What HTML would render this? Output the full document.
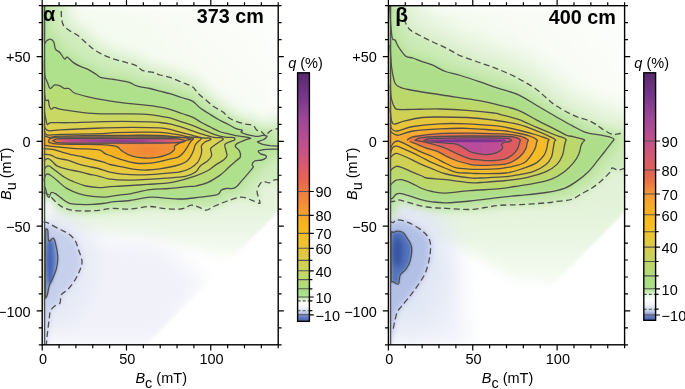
<!DOCTYPE html>
<html><head><meta charset="utf-8"><style>
html,body{margin:0;padding:0;background:#fff;}
svg{display:block;}
text{opacity:0.999;font-family:"Liberation Sans", sans-serif;fill:#000;}
.tl{font-size:14.5px;}
.al{font-size:14.5px;}
.tt{font-size:19.8px;font-weight:bold;}
.gk{font-size:21px;font-weight:bold;}
</style></head><body>
<svg width="685" height="389" viewBox="0 0 685 389">
<clipPath id="clipa"><rect x="42.2" y="5.7" width="236.00" height="339.10"/></clipPath>
<linearGradient id="ridgea" x1="53" y1="0" x2="186" y2="0" gradientUnits="userSpaceOnUse"><stop offset="0.000" stop-color="#f07a40"/><stop offset="0.038" stop-color="#e86050"/><stop offset="0.075" stop-color="#d04c88"/><stop offset="0.165" stop-color="#b84498"/><stop offset="0.316" stop-color="#9a3c9c"/><stop offset="0.504" stop-color="#8a3698"/><stop offset="0.654" stop-color="#983a9a"/><stop offset="0.729" stop-color="#ae4698"/><stop offset="0.820" stop-color="#c8508c"/><stop offset="0.895" stop-color="#dc5870"/><stop offset="0.955" stop-color="#e86658"/><stop offset="1.000" stop-color="#f07a40"/></linearGradient><linearGradient id="edgea" x1="0" y1="5" x2="0" y2="345" gradientUnits="userSpaceOnUse"><stop offset="0" stop-color="#c4e6a8"/><stop offset="0.2" stop-color="#b4dc84"/><stop offset="0.33" stop-color="#cdd45a"/><stop offset="0.38" stop-color="#e6c63c"/><stop offset="0.4" stop-color="#f6b82a"/><stop offset="0.43" stop-color="#e8c43a"/><stop offset="0.5" stop-color="#c8d460"/><stop offset="0.55" stop-color="#b4dc84"/><stop offset="0.62" stop-color="#d8ecc8"/><stop offset="0.66" stop-color="#f0f4f8"/><stop offset="0.7" stop-color="#d4e6c8"/><stop offset="0.88" stop-color="#d4e6c8"/><stop offset="0.92" stop-color="#eef2f8"/><stop offset="1" stop-color="#f4f6fa"/></linearGradient><radialGradient id="bloba" cx="150" cy="150" r="30" gradientUnits="userSpaceOnUse" gradientTransform="translate(150 150) scale(1.6 0.5) translate(-150 -150)"><stop offset="0" stop-color="#f2863a"/><stop offset="1" stop-color="#f59e30"/></radialGradient><linearGradient id="tinta" x1="60" y1="200" x2="270" y2="10" gradientUnits="userSpaceOnUse"><stop offset="0" stop-color="#eaf6e2"/><stop offset="1" stop-color="#fdfefc"/></linearGradient><filter id="fa1_5" filterUnits="userSpaceOnUse" x="2.200000000000003" y="-34.3" width="316.0" height="419.1"><feGaussianBlur stdDeviation="1.5"/></filter><filter id="fa3" filterUnits="userSpaceOnUse" x="2.200000000000003" y="-34.3" width="316.0" height="419.1"><feGaussianBlur stdDeviation="3"/></filter><filter id="fa6" filterUnits="userSpaceOnUse" x="2.200000000000003" y="-34.3" width="316.0" height="419.1"><feGaussianBlur stdDeviation="6"/></filter><filter id="fa10" filterUnits="userSpaceOnUse" x="2.200000000000003" y="-34.3" width="316.0" height="419.1"><feGaussianBlur stdDeviation="10"/></filter><filter id="fa14" filterUnits="userSpaceOnUse" x="2.200000000000003" y="-34.3" width="316.0" height="419.1"><feGaussianBlur stdDeviation="14"/></filter>
<filter id="bl1a" x="-5%" y="-5%" width="110%" height="110%"><feGaussianBlur stdDeviation="1.0"/></filter>
<filter id="bl2a" x="-20%" y="-20%" width="140%" height="140%"><feGaussianBlur stdDeviation="2"/></filter>
<filter id="bl4a" x="-20%" y="-20%" width="140%" height="140%"><feGaussianBlur stdDeviation="4"/></filter>
<filter id="bl8a" x="-20%" y="-20%" width="140%" height="140%"><feGaussianBlur stdDeviation="8"/></filter>
<g clip-path="url(#clipa)">
<rect x="42.2" y="5.7" width="236.0" height="339.1" fill="#fff"/>
<path d="M42.2 5.7 L278.2 5.7 L278.2 213.0 L210.0 232.0 L42.2 232.0Z" fill="url(#tinta)" filter="url(#fa6)"/>
<path d="M42.2 5.7C45.3 5.1 57.6 1.1 60.8 2.0C64.0 2.9 61.2 8.2 61.3 11.0C61.4 13.8 61.2 16.1 61.6 18.5C62.0 20.9 62.4 23.8 63.6 25.7C64.8 27.6 66.6 28.5 69.0 30.2C71.4 31.9 75.0 33.4 78.0 35.6C81.0 37.9 84.0 41.2 87.0 43.7C90.0 46.2 92.4 48.6 96.0 50.9C99.6 53.1 104.1 55.4 108.6 57.2C113.1 59.0 118.5 60.4 123.0 61.7C127.5 63.1 132.3 63.8 135.6 65.3C138.9 66.8 139.8 69.5 142.8 70.7C145.8 71.9 150.6 71.8 153.5 72.5C156.4 73.2 157.1 74.1 160.0 75.0C162.9 75.9 167.2 76.5 170.8 77.7C174.4 78.9 178.0 80.7 181.6 82.2C185.2 83.7 189.7 84.9 192.4 86.7C195.1 88.5 195.7 90.9 197.8 93.0C199.9 95.1 202.3 96.9 205.0 99.2C207.7 101.5 211.0 104.6 214.0 106.7C217.0 108.8 220.6 110.3 223.0 112.1C225.4 113.9 226.3 116.0 228.4 117.5C230.5 119.0 232.9 120.0 235.6 121.1C238.3 122.2 242.3 123.3 244.6 123.9C246.9 124.5 248.0 124.3 249.5 124.6C251.0 124.9 252.3 124.6 253.5 125.5C254.7 126.4 255.4 129.1 256.6 130.0C257.8 130.9 259.6 130.6 260.7 131.2C261.8 131.8 262.6 133.0 263.5 133.8C264.4 134.6 265.0 136.2 265.8 136.0C266.6 135.8 267.6 133.4 268.5 132.5C269.4 131.6 270.4 130.8 271.5 130.3C272.6 129.8 273.8 129.6 275.0 129.3C276.2 129.0 278.3 120.2 279.0 128.6C279.7 137.0 279.8 171.3 279.0 179.8C278.2 188.3 276.0 179.3 274.4 179.8C272.8 180.3 271.0 182.6 269.4 182.9C267.8 183.2 265.9 181.6 264.5 181.6C263.1 181.6 262.1 181.3 260.8 182.9C259.6 184.5 257.2 188.1 257.0 191.0C256.8 193.9 259.1 198.2 259.5 200.3C259.9 202.4 260.7 203.4 259.5 203.4C258.3 203.4 255.2 201.3 252.1 200.3C249.0 199.3 245.2 197.0 240.9 197.2C236.6 197.4 230.6 199.9 226.0 201.5C221.4 203.1 216.9 205.1 213.6 206.5C210.3 207.9 208.7 210.1 206.2 210.2C203.7 210.3 201.2 207.9 198.7 207.1C196.2 206.3 193.9 204.9 191.0 205.2C188.1 205.5 185.8 208.5 181.0 209.0C176.2 209.5 167.6 208.7 162.4 208.3C157.2 207.9 155.4 206.4 150.0 206.5C144.6 206.6 136.3 208.7 130.0 209.0C123.7 209.3 117.5 208.2 112.3 208.4C107.1 208.6 103.5 209.9 99.1 210.3C94.7 210.7 90.4 211.0 86.0 211.0C81.6 211.0 76.6 210.9 72.9 210.3C69.2 209.8 66.1 208.7 63.7 207.7C61.3 206.7 60.2 205.8 58.4 204.4C56.6 203.0 54.7 200.8 53.1 199.2C51.5 197.6 50.4 196.0 49.0 195.0C47.6 194.0 45.9 193.3 45.0 193.0C44.1 192.7 44.0 192.5 43.5 193.0C43.0 193.5 42.4 195.5 42.2 196.0Z" fill="#dcf0cf" stroke="#dcf0cf" stroke-width="18" stroke-linejoin="round" filter="url(#fa6)"/>
<linearGradient id="gfa" x1="0" y1="205" x2="0" y2="260" gradientUnits="userSpaceOnUse"><stop offset="0" stop-color="#e4f3da"/><stop offset="0.5" stop-color="#edf7e8"/><stop offset="1" stop-color="#f8fcf6"/></linearGradient>
<path d="M42.2 195.0 L43.5 193.0 L45.0 193.0 L49.0 195.0 L53.1 199.2 L58.4 204.4 L63.7 207.7 L72.9 210.3 L86.0 211.0 L99.1 210.3 L112.3 208.4 L130.0 209.0 L150.0 206.5 L162.4 208.3 L181.0 209.0 L191.0 205.2 L198.7 207.1 L206.2 210.2 L213.6 206.5 L226.0 201.5 L240.9 197.2 L252.1 200.3 L259.5 203.4 L259.5 200.3 L257.0 191.0 L260.8 182.9 L264.5 181.6 L269.4 182.9 L274.4 179.8 L279.0 179.8 L280.0 178.0 L280.0 240.0 L250.0 255.0 L215.0 256.0 L160.0 240.0 L100.0 230.0 L42.2 222.0Z" fill="url(#gfa)" filter="url(#fa6)"/>
<path d="M42.2 232 L160 242 L205 280 L165 345 L42.2 345Z" fill="#f1f2f9" filter="url(#fa10)"/>
<ellipse cx="56" cy="268" rx="38" ry="58" fill="#e6eaf6" filter="url(#fa10)"/>
<path d="M43.5 222.0C44.3 222.2 45.9 221.9 48.4 223.1C50.9 224.2 55.5 227.2 58.8 228.9C62.1 230.6 65.4 231.6 68.1 233.5C70.8 235.4 73.4 237.8 75.1 240.5C76.8 243.2 77.3 246.2 78.5 249.7C79.7 253.2 81.8 257.8 82.0 261.3C82.2 264.8 80.9 267.5 79.7 270.6C78.5 273.7 77.0 276.8 75.1 279.9C73.2 283.0 70.4 286.6 68.1 289.1C65.8 291.6 62.6 292.6 61.2 294.9C59.9 297.2 61.1 301.1 60.0 303.0C58.9 304.9 56.0 304.8 54.4 306.2C52.8 307.6 51.1 309.2 50.3 311.3C49.4 313.4 49.6 315.9 49.3 318.5C48.9 321.1 48.6 324.1 48.2 326.8C47.9 329.6 47.5 332.5 47.2 335.0C46.9 337.5 46.8 340.2 46.6 342.0C46.4 343.8 47.2 345.3 46.0 346.0C44.8 346.7 40.3 366.7 39.2 346.0C38.1 325.3 39.2 242.7 39.2 222.0Z" fill="#c6cfeb" filter="url(#fa3)"/>
<path d="M45.5 297.0C45.5 291.2 45.5 272.8 45.5 262.0C45.5 251.2 45.5 237.4 45.6 232.0C45.7 226.6 45.9 229.8 46.3 229.5C46.7 229.2 47.4 228.8 47.8 230.5C48.1 232.2 48.0 238.2 48.4 240.0C48.8 241.8 49.2 241.3 50.0 241.0C50.8 240.7 52.2 237.9 53.1 238.2C54.0 238.5 54.6 239.7 55.4 242.8C56.2 245.9 57.5 252.4 57.7 256.7C57.9 260.9 57.3 264.8 56.5 268.3C55.7 271.8 54.2 274.8 53.1 277.5C52.0 280.2 50.6 281.6 49.6 284.5C48.6 287.4 47.9 292.6 47.3 294.9C46.7 297.1 46.0 297.5 45.8 298.0Z" fill="#6f88c8" filter="url(#fa1_5)"/>
<ellipse cx="50" cy="262" rx="3.5" ry="22" fill="#4a68b5" filter="url(#fa1_5)"/>
<filter id="lba10h" filterUnits="userSpaceOnUse" x="12.200000000000003" y="-24.3" width="296.0" height="399.1"><feGaussianBlur stdDeviation="5"/></filter><filter id="lbaD" filterUnits="userSpaceOnUse" x="22.200000000000003" y="-14.3" width="276.0" height="379.1"><feGaussianBlur stdDeviation="3"/></filter><filter id="lba10" filterUnits="userSpaceOnUse" x="22.200000000000003" y="-14.3" width="276.0" height="379.1"><feGaussianBlur stdDeviation="2.5"/></filter><filter id="lba20" filterUnits="userSpaceOnUse" x="22.200000000000003" y="-14.3" width="276.0" height="379.1"><feGaussianBlur stdDeviation="2"/></filter><filter id="lba30" filterUnits="userSpaceOnUse" x="22.200000000000003" y="-14.3" width="276.0" height="379.1"><feGaussianBlur stdDeviation="1.6"/></filter><filter id="lba40" filterUnits="userSpaceOnUse" x="22.200000000000003" y="-14.3" width="276.0" height="379.1"><feGaussianBlur stdDeviation="1.3"/></filter><filter id="lba50" filterUnits="userSpaceOnUse" x="22.200000000000003" y="-14.3" width="276.0" height="379.1"><feGaussianBlur stdDeviation="1.1"/></filter><filter id="lba60" filterUnits="userSpaceOnUse" x="22.200000000000003" y="-14.3" width="276.0" height="379.1"><feGaussianBlur stdDeviation="1"/></filter><filter id="lba70" filterUnits="userSpaceOnUse" x="22.200000000000003" y="-14.3" width="276.0" height="379.1"><feGaussianBlur stdDeviation="1"/></filter><filter id="lba80" filterUnits="userSpaceOnUse" x="22.200000000000003" y="-14.3" width="276.0" height="379.1"><feGaussianBlur stdDeviation="1"/></filter><filter id="lba90" filterUnits="userSpaceOnUse" x="22.200000000000003" y="-14.3" width="276.0" height="379.1"><feGaussianBlur stdDeviation="0.8"/></filter><path d="M39.2 2.7C42.8 2.6 57.1 0.6 60.8 2.0C64.5 3.4 61.2 8.2 61.3 11.0C61.4 13.8 61.2 16.1 61.6 18.5C62.0 20.9 62.4 23.8 63.6 25.7C64.8 27.6 66.6 28.5 69.0 30.2C71.4 31.9 75.0 33.4 78.0 35.6C81.0 37.9 84.0 41.2 87.0 43.7C90.0 46.2 92.4 48.6 96.0 50.9C99.6 53.1 104.1 55.4 108.6 57.2C113.1 59.0 118.5 60.4 123.0 61.7C127.5 63.1 132.3 63.8 135.6 65.3C138.9 66.8 139.8 69.5 142.8 70.7C145.8 71.9 150.6 71.8 153.5 72.5C156.4 73.2 157.1 74.1 160.0 75.0C162.9 75.9 167.2 76.5 170.8 77.7C174.4 78.9 178.0 80.7 181.6 82.2C185.2 83.7 189.7 84.9 192.4 86.7C195.1 88.5 195.7 90.9 197.8 93.0C199.9 95.1 202.3 96.9 205.0 99.2C207.7 101.5 211.0 104.6 214.0 106.7C217.0 108.8 220.6 110.3 223.0 112.1C225.4 113.9 226.3 116.0 228.4 117.5C230.5 119.0 232.9 120.0 235.6 121.1C238.3 122.2 242.3 123.3 244.6 123.9C246.9 124.5 248.0 124.3 249.5 124.6C251.0 124.9 252.3 124.6 253.5 125.5C254.7 126.4 255.4 129.1 256.6 130.0C257.8 130.9 259.6 130.6 260.7 131.2C261.8 131.8 262.6 133.0 263.5 133.8C264.4 134.6 265.0 136.2 265.8 136.0C266.6 135.8 267.6 133.4 268.5 132.5C269.4 131.6 270.4 130.8 271.5 130.3C272.6 129.8 273.8 129.6 275.0 129.3C276.2 129.0 278.3 120.2 279.0 128.6C279.7 137.0 279.8 171.3 279.0 179.8C278.2 188.3 276.0 179.3 274.4 179.8C272.8 180.3 271.0 182.6 269.4 182.9C267.8 183.2 265.9 181.6 264.5 181.6C263.1 181.6 262.1 181.3 260.8 182.9C259.6 184.5 257.2 188.1 257.0 191.0C256.8 193.9 259.1 198.2 259.5 200.3C259.9 202.4 260.7 203.4 259.5 203.4C258.3 203.4 255.2 201.3 252.1 200.3C249.0 199.3 245.2 197.0 240.9 197.2C236.6 197.4 230.6 199.9 226.0 201.5C221.4 203.1 216.9 205.1 213.6 206.5C210.3 207.9 208.7 210.1 206.2 210.2C203.7 210.3 201.2 207.9 198.7 207.1C196.2 206.3 193.9 204.9 191.0 205.2C188.1 205.5 185.8 208.5 181.0 209.0C176.2 209.5 167.6 208.7 162.4 208.3C157.2 207.9 155.4 206.4 150.0 206.5C144.6 206.6 136.3 208.7 130.0 209.0C123.7 209.3 117.5 208.2 112.3 208.4C107.1 208.6 103.5 209.9 99.1 210.3C94.7 210.7 90.4 211.0 86.0 211.0C81.6 211.0 76.6 210.9 72.9 210.3C69.2 209.8 66.1 208.7 63.7 207.7C61.3 206.7 60.2 205.8 58.4 204.4C56.6 203.0 54.7 200.8 53.1 199.2C51.5 197.6 50.4 196.0 49.0 195.0C47.6 194.0 45.9 193.3 45.0 193.0C44.1 192.7 44.5 193.0 43.5 193.0C42.5 193.0 39.9 193.0 39.2 193.0Z" fill="#cfecbb" filter="url(#lbaD)"/><path d="M44.4 5.0C44.4 9.2 44.4 23.8 44.4 30.0C44.4 36.2 44.2 40.8 44.6 42.5C45.0 44.2 46.1 41.0 47.0 40.5C47.9 40.0 49.0 39.0 50.1 39.2C51.2 39.4 52.8 40.2 53.7 41.9C54.6 43.5 54.5 47.3 55.5 49.1C56.5 50.9 58.5 51.1 60.0 52.7C61.5 54.4 63.3 58.2 64.5 59.0C65.7 59.8 65.7 56.6 67.2 57.2C68.7 57.8 71.4 61.1 73.5 62.6C75.6 64.1 77.2 65.0 79.8 66.2C82.3 67.4 86.1 68.5 88.8 69.8C91.5 71.1 93.9 73.0 96.0 74.3C98.1 75.6 98.4 76.8 101.4 77.7C104.4 78.6 109.5 78.8 114.0 79.5C118.5 80.2 124.5 81.1 128.4 82.2C132.3 83.3 133.8 85.2 137.4 86.2C141.0 87.2 146.2 87.7 150.0 88.5C153.8 89.3 156.5 90.3 160.0 91.2C163.5 92.1 167.2 92.9 170.8 93.9C174.4 95.0 178.0 96.3 181.6 97.5C185.2 98.7 189.4 99.4 192.4 101.1C195.4 102.8 196.6 105.2 199.6 107.4C202.6 109.7 207.1 112.5 210.4 114.6C213.7 116.7 216.4 118.3 219.4 120.0C222.4 121.7 225.6 123.0 228.4 124.5C231.2 126.0 233.7 127.7 236.0 128.7C238.3 129.7 241.3 129.7 242.2 130.3C243.0 130.9 240.4 131.6 241.1 132.3C241.8 133.0 243.7 133.7 246.3 134.4C248.9 135.1 253.9 136.2 256.6 136.4C259.3 136.6 261.0 135.5 262.7 135.4C264.4 135.3 266.3 135.5 266.8 135.9C267.3 136.3 266.5 137.3 265.8 138.0C265.1 138.7 264.1 139.4 262.7 140.0C261.3 140.6 258.1 141.1 257.6 141.6C257.1 142.1 258.6 142.6 259.6 143.1C260.6 143.6 262.1 144.3 263.8 144.7C265.5 145.1 267.5 145.4 270.0 145.7C272.5 145.9 277.5 145.7 279.0 146.2C280.5 146.7 281.0 148.3 279.0 148.8C277.0 149.3 270.2 149.0 266.8 149.3C263.4 149.6 259.6 150.0 258.6 150.8C257.6 151.6 259.5 153.1 260.7 153.9C261.9 154.7 264.9 154.8 265.8 155.5C266.7 156.2 266.5 157.2 265.8 158.0C265.1 158.8 263.6 159.5 261.7 160.0C259.8 160.5 256.2 160.2 254.6 161.0C253.0 161.8 252.3 163.7 252.1 164.7C251.9 165.7 253.7 165.8 253.3 167.0C252.9 168.2 251.5 169.5 249.6 171.7C247.7 173.9 244.6 177.7 242.1 180.4C239.6 183.1 237.4 186.6 234.7 187.9C232.0 189.2 228.3 188.1 226.0 188.5C223.7 188.9 222.4 189.3 221.0 190.3C219.6 191.3 220.9 193.5 217.3 194.7C213.7 195.8 205.7 196.5 199.6 197.2C193.5 197.9 187.2 198.9 181.0 199.0C174.8 199.1 167.6 198.1 162.4 197.8C157.2 197.5 155.4 196.8 150.0 197.2C144.6 197.6 136.3 199.7 130.0 200.5C123.7 201.3 116.3 201.4 112.3 201.8C108.2 202.2 109.0 202.7 105.7 203.1C102.4 203.5 97.0 204.2 92.6 204.4C88.2 204.6 83.4 204.6 79.4 204.4C75.5 204.2 72.0 204.2 68.9 203.1C65.8 202.0 63.2 199.4 61.0 197.9C58.8 196.4 57.4 194.8 55.8 193.9C54.2 193.0 52.3 192.1 51.2 192.6C50.1 193.1 49.9 196.8 49.2 197.2C48.5 197.6 47.8 196.4 47.2 195.2C46.7 194.0 46.4 191.5 45.9 190.0C45.4 188.5 45.5 186.7 44.4 186.0C43.3 185.3 40.1 216.6 39.2 186.0C38.3 155.4 39.2 33.2 39.2 2.7Z" fill="#bde5a3" stroke="#bde5a3" stroke-width="14" stroke-linejoin="round" filter="url(#lba10h)"/><path d="M44.4 5.0C44.4 9.2 44.4 23.8 44.4 30.0C44.4 36.2 44.2 40.8 44.6 42.5C45.0 44.2 46.1 41.0 47.0 40.5C47.9 40.0 49.0 39.0 50.1 39.2C51.2 39.4 52.8 40.2 53.7 41.9C54.6 43.5 54.5 47.3 55.5 49.1C56.5 50.9 58.5 51.1 60.0 52.7C61.5 54.4 63.3 58.2 64.5 59.0C65.7 59.8 65.7 56.6 67.2 57.2C68.7 57.8 71.4 61.1 73.5 62.6C75.6 64.1 77.2 65.0 79.8 66.2C82.3 67.4 86.1 68.5 88.8 69.8C91.5 71.1 93.9 73.0 96.0 74.3C98.1 75.6 98.4 76.8 101.4 77.7C104.4 78.6 109.5 78.8 114.0 79.5C118.5 80.2 124.5 81.1 128.4 82.2C132.3 83.3 133.8 85.2 137.4 86.2C141.0 87.2 146.2 87.7 150.0 88.5C153.8 89.3 156.5 90.3 160.0 91.2C163.5 92.1 167.2 92.9 170.8 93.9C174.4 95.0 178.0 96.3 181.6 97.5C185.2 98.7 189.4 99.4 192.4 101.1C195.4 102.8 196.6 105.2 199.6 107.4C202.6 109.7 207.1 112.5 210.4 114.6C213.7 116.7 216.4 118.3 219.4 120.0C222.4 121.7 225.6 123.0 228.4 124.5C231.2 126.0 233.7 127.7 236.0 128.7C238.3 129.7 241.3 129.7 242.2 130.3C243.0 130.9 240.4 131.6 241.1 132.3C241.8 133.0 243.7 133.7 246.3 134.4C248.9 135.1 253.9 136.2 256.6 136.4C259.3 136.6 261.0 135.5 262.7 135.4C264.4 135.3 266.3 135.5 266.8 135.9C267.3 136.3 266.5 137.3 265.8 138.0C265.1 138.7 264.1 139.4 262.7 140.0C261.3 140.6 258.1 141.1 257.6 141.6C257.1 142.1 258.6 142.6 259.6 143.1C260.6 143.6 262.1 144.3 263.8 144.7C265.5 145.1 267.5 145.4 270.0 145.7C272.5 145.9 277.5 145.7 279.0 146.2C280.5 146.7 281.0 148.3 279.0 148.8C277.0 149.3 270.2 149.0 266.8 149.3C263.4 149.6 259.6 150.0 258.6 150.8C257.6 151.6 259.5 153.1 260.7 153.9C261.9 154.7 264.9 154.8 265.8 155.5C266.7 156.2 266.5 157.2 265.8 158.0C265.1 158.8 263.6 159.5 261.7 160.0C259.8 160.5 256.2 160.2 254.6 161.0C253.0 161.8 252.3 163.7 252.1 164.7C251.9 165.7 253.7 165.8 253.3 167.0C252.9 168.2 251.5 169.5 249.6 171.7C247.7 173.9 244.6 177.7 242.1 180.4C239.6 183.1 237.4 186.6 234.7 187.9C232.0 189.2 228.3 188.1 226.0 188.5C223.7 188.9 222.4 189.3 221.0 190.3C219.6 191.3 220.9 193.5 217.3 194.7C213.7 195.8 205.7 196.5 199.6 197.2C193.5 197.9 187.2 198.9 181.0 199.0C174.8 199.1 167.6 198.1 162.4 197.8C157.2 197.5 155.4 196.8 150.0 197.2C144.6 197.6 136.3 199.7 130.0 200.5C123.7 201.3 116.3 201.4 112.3 201.8C108.2 202.2 109.0 202.7 105.7 203.1C102.4 203.5 97.0 204.2 92.6 204.4C88.2 204.6 83.4 204.6 79.4 204.4C75.5 204.2 72.0 204.2 68.9 203.1C65.8 202.0 63.2 199.4 61.0 197.9C58.8 196.4 57.4 194.8 55.8 193.9C54.2 193.0 52.3 192.1 51.2 192.6C50.1 193.1 49.9 196.8 49.2 197.2C48.5 197.6 47.8 196.4 47.2 195.2C46.7 194.0 46.4 191.5 45.9 190.0C45.4 188.5 45.5 186.7 44.4 186.0C43.3 185.3 40.1 216.6 39.2 186.0C38.3 155.4 39.2 33.2 39.2 2.7Z" fill="#afe08c" filter="url(#lba10)"/><path d="M44.4 60.0C44.5 62.5 44.3 71.3 44.8 75.0C45.3 78.7 46.5 80.0 47.4 82.2C48.3 84.5 48.9 88.0 50.1 88.5C51.3 89.0 53.0 85.4 54.6 84.9C56.2 84.5 58.4 85.2 60.0 85.8C61.6 86.4 63.0 88.0 64.5 88.5C66.0 89.0 67.3 87.8 69.0 88.5C70.7 89.2 71.4 91.7 74.4 93.0C77.4 94.3 81.9 95.4 87.0 96.6C92.1 97.8 99.0 99.2 105.0 100.2C111.0 101.2 117.0 102.2 123.0 102.9C129.0 103.7 134.8 104.0 141.0 104.7C147.2 105.4 155.0 106.3 160.0 107.1C165.0 107.9 167.2 108.5 170.8 109.6C174.4 110.7 178.0 112.2 181.6 113.5C185.2 114.8 189.1 115.6 192.4 117.1C195.7 118.6 198.4 120.8 201.4 122.5C204.4 124.2 207.4 125.5 210.4 127.0C213.4 128.5 216.4 130.3 219.4 131.5C222.4 132.7 225.4 133.2 228.4 133.9C231.4 134.6 234.4 135.4 237.4 135.9C240.4 136.4 244.2 136.7 246.4 137.1C248.6 137.5 250.0 137.9 250.5 138.2C251.0 138.4 250.4 138.3 249.6 138.6C248.8 138.9 247.6 139.0 245.5 139.8C243.4 140.6 239.0 142.3 237.3 143.4C235.6 144.5 234.9 145.2 235.2 146.4C235.5 147.6 238.4 148.9 239.3 150.6C240.2 152.3 240.9 155.0 240.4 156.7C239.9 158.4 237.9 159.2 236.2 160.8C234.5 162.4 231.8 164.5 230.1 166.0C228.4 167.5 227.7 168.4 226.0 170.0C224.3 171.6 222.9 173.3 219.8 175.4C216.7 177.5 211.5 180.9 207.4 182.7C203.3 184.5 198.4 185.5 195.0 186.2C191.6 186.8 191.6 186.2 187.2 186.6C182.8 187.0 174.8 188.0 168.6 188.5C162.4 189.0 156.4 188.8 150.0 189.7C143.6 190.6 135.2 192.9 130.0 193.8C124.8 194.7 122.8 194.6 118.8 195.1C114.8 195.6 110.1 196.9 105.7 197.1C101.3 197.3 97.0 196.9 92.6 196.4C88.2 195.9 83.8 195.2 79.4 193.8C75.0 192.4 70.0 190.3 66.3 188.1C62.6 185.9 59.7 182.7 57.1 180.5C54.5 178.3 52.2 176.2 50.5 175.2C48.8 174.1 47.6 173.7 46.6 174.2C45.6 174.7 44.8 176.7 44.4 178.0C44.0 179.3 44.4 181.3 44.4 182.0Z" fill="#b8dc76" filter="url(#lba20)"/><path d="M44.4 92.0C44.6 93.4 45.0 98.8 45.6 100.2C46.2 101.6 47.7 99.3 48.3 100.2C48.9 101.1 48.8 104.1 49.2 105.6C49.7 107.1 50.1 108.9 51.0 109.2C51.9 109.5 53.1 107.4 54.6 107.4C56.1 107.4 56.1 108.5 60.0 109.2C63.9 110.0 72.0 111.2 78.0 111.9C84.0 112.7 90.0 113.4 96.0 113.7C102.0 114.0 108.0 113.9 114.0 113.9C120.0 113.9 126.0 113.8 132.0 113.9C138.0 114.0 145.3 114.2 150.0 114.6C154.7 115.0 156.5 115.6 160.0 116.2C163.5 116.8 167.2 117.3 170.8 118.2C174.4 119.1 178.0 120.6 181.6 121.8C185.2 123.0 188.8 124.1 192.4 125.4C196.0 126.8 199.6 128.4 203.2 129.9C206.8 131.4 210.4 133.2 214.0 134.4C217.6 135.6 221.5 136.7 224.8 137.2C228.1 137.7 232.1 137.3 233.8 137.6C235.5 137.9 234.7 138.4 234.8 138.8C234.9 139.2 234.8 139.9 234.2 140.3C233.6 140.7 232.6 140.6 231.1 141.3C229.6 142.0 225.8 142.9 224.9 144.4C224.1 145.9 225.7 148.7 226.0 150.6C226.3 152.5 227.3 154.2 227.0 155.7C226.7 157.2 225.8 158.3 223.9 159.8C222.0 161.3 218.4 163.1 215.7 164.9C213.0 166.7 210.9 168.9 207.5 170.8C204.1 172.7 200.9 174.2 195.0 176.1C189.1 178.0 180.0 180.9 172.0 182.3C164.0 183.7 155.5 183.8 147.2 184.4C138.9 185.0 128.6 185.6 122.4 186.0C116.2 186.4 113.9 186.3 110.0 186.6C106.1 186.9 103.1 187.7 99.1 187.6C95.1 187.5 90.4 187.0 86.0 186.0C81.6 185.0 76.6 182.9 72.9 181.4C69.2 179.9 67.0 178.9 63.7 176.8C60.4 174.7 55.5 170.5 53.1 168.7C50.7 166.9 50.3 166.4 49.2 166.0C48.1 165.6 47.3 166.0 46.5 166.5C45.7 167.0 45.0 168.2 44.6 168.8C44.2 169.4 44.4 169.8 44.4 170.0Z" fill="#c9d862" filter="url(#lba30)"/><path d="M44.4 112.0C44.6 113.0 45.1 116.1 45.6 118.2C46.1 120.3 46.5 123.8 47.4 124.5C48.3 125.2 47.4 123.0 51.0 122.7C54.6 122.4 61.5 122.9 69.0 122.7C76.5 122.5 87.0 122.0 96.0 121.8C105.0 121.6 114.0 121.4 123.0 121.4C132.0 121.4 143.8 121.6 150.0 121.8C156.2 122.0 156.5 122.1 160.0 122.5C163.5 122.9 167.2 123.4 170.8 124.2C174.4 125.0 178.0 126.1 181.6 127.2C185.2 128.3 188.8 129.6 192.4 130.8C196.0 132.0 199.6 133.3 203.2 134.4C206.8 135.5 211.0 136.8 214.0 137.3C217.0 137.8 219.5 137.4 221.0 137.6C222.5 137.8 222.7 138.2 223.0 138.6C223.3 139.0 223.6 139.2 222.9 139.8C222.2 140.4 220.7 141.0 218.8 142.3C216.9 143.6 213.0 146.3 211.6 147.5C210.2 148.7 210.6 148.1 210.6 149.5C210.6 150.9 212.1 153.8 211.6 155.7C211.1 157.6 209.4 159.4 207.5 161.1C205.6 162.8 202.3 164.1 200.3 165.9C198.3 167.7 198.1 170.2 195.6 172.0C193.1 173.8 190.3 175.4 185.3 176.4C180.3 177.4 172.2 177.7 165.8 178.2C159.5 178.7 153.4 179.1 147.2 179.4C141.0 179.7 134.8 180.2 128.6 180.1C122.4 180.0 115.0 179.8 110.0 179.1C105.0 178.4 102.1 176.9 98.5 176.1C94.9 175.2 91.6 174.8 88.2 174.0C84.8 173.2 81.4 172.2 78.0 171.4C74.6 170.6 71.1 170.3 67.7 169.4C64.3 168.5 60.0 167.5 57.4 166.2C54.8 164.9 53.8 162.8 52.3 161.5C50.8 160.2 49.5 158.8 48.2 158.6C46.9 158.4 45.2 159.7 44.6 160.1C44.0 160.5 44.4 160.8 44.4 161.0Z" fill="#dbd24f" filter="url(#lba40)"/><path d="M44.4 124.0C44.5 124.7 44.1 126.9 44.9 128.0C45.7 129.1 46.7 130.5 49.2 130.8C51.7 131.1 55.2 130.2 60.0 129.9C64.8 129.6 70.5 129.3 78.0 129.0C85.5 128.7 96.0 128.2 105.0 127.9C114.0 127.6 122.8 127.4 132.0 127.4C141.2 127.4 153.5 127.5 160.0 127.9C166.5 128.3 167.2 128.8 170.8 129.6C174.4 130.4 178.0 131.6 181.6 132.6C185.2 133.6 188.8 134.4 192.4 135.3C196.0 136.2 200.4 137.6 203.2 138.0C206.0 138.4 207.8 137.8 209.0 137.9C210.2 138.0 210.2 138.4 210.5 138.7C210.8 139.0 211.4 139.2 210.5 139.8C209.6 140.4 206.5 141.0 205.0 142.0C203.5 143.0 202.1 144.2 201.5 145.6C200.9 147.0 201.8 149.0 201.7 150.7C201.6 152.4 201.4 154.1 200.7 156.0C200.0 157.9 199.3 160.4 197.6 162.4C195.9 164.4 193.3 166.6 190.4 168.2C187.5 169.8 185.2 170.9 180.1 171.8C175.0 172.7 166.1 173.3 159.6 173.8C153.1 174.3 147.2 174.7 141.0 174.8C134.8 174.9 127.6 174.6 122.4 174.2C117.2 173.8 114.0 173.1 110.0 172.2C106.0 171.2 102.1 169.5 98.5 168.5C94.9 167.5 91.6 167.2 88.2 166.4C84.8 165.6 81.4 164.8 78.0 163.8C74.6 162.8 71.1 161.1 67.7 160.2C64.3 159.3 60.3 159.1 57.4 158.2C54.5 157.3 52.3 155.4 50.2 154.8C48.1 154.2 45.6 154.5 44.6 154.4C43.6 154.3 44.4 154.1 44.4 154.0Z" fill="#e9c83c" filter="url(#lba50)"/><path d="M44.4 131.0C44.9 131.7 44.3 134.4 47.1 135.0C49.9 135.6 52.1 134.5 61.3 134.3C70.5 134.1 93.2 133.9 102.0 133.6C110.8 133.3 107.7 132.8 114.0 132.6C120.3 132.4 132.3 132.2 140.0 132.2C147.7 132.1 153.7 131.9 160.0 132.3C166.3 132.7 173.2 133.8 178.0 134.6C182.8 135.4 185.2 136.4 188.8 136.9C192.4 137.4 197.5 137.3 199.6 137.6C201.7 137.9 201.3 138.2 201.5 138.5C201.7 138.8 201.5 138.6 200.5 139.6C199.5 140.6 196.8 142.5 195.6 144.3C194.4 146.1 194.4 148.4 193.5 150.5C192.6 152.6 191.8 154.9 190.4 156.9C189.0 158.9 187.9 160.8 185.3 162.3C182.7 163.8 179.3 164.9 175.0 166.0C170.7 167.1 164.2 168.1 159.6 168.8C155.0 169.5 151.3 169.9 147.2 170.0C143.1 170.1 138.9 169.9 134.8 169.4C130.7 168.9 126.5 167.7 122.4 166.9C118.3 166.1 113.1 165.3 110.0 164.5C106.9 163.7 106.5 162.9 103.7 162.1C100.9 161.3 96.8 160.3 93.4 159.5C90.0 158.7 86.5 157.8 83.1 157.0C79.7 156.2 76.2 155.7 72.8 154.9C69.4 154.1 66.0 153.2 62.6 152.3C59.2 151.4 55.3 149.9 52.3 149.3C49.3 148.7 45.9 148.9 44.6 148.8C43.3 148.7 44.4 148.6 44.4 148.5Z" fill="#f2bf2c" filter="url(#lba60)"/><path d="M44.4 136.0C44.8 136.1 46.1 136.4 47.0 136.6C47.9 136.8 47.5 137.5 49.7 137.4C51.9 137.3 52.3 136.5 60.0 136.2C67.7 135.9 84.3 135.6 96.0 135.4C107.7 135.2 119.3 135.3 130.0 135.3C140.7 135.3 151.1 135.1 160.0 135.5C168.9 135.9 178.1 137.2 183.4 137.6C188.7 138.0 190.3 137.9 192.0 138.1C193.7 138.3 193.4 138.4 193.5 138.7C193.6 139.0 193.1 139.2 192.5 139.8C191.9 140.4 190.7 141.6 190.0 142.5C189.3 143.4 189.3 143.8 188.4 145.3C187.5 146.8 185.9 149.6 184.3 151.5C182.8 153.4 181.2 155.4 179.1 156.6C177.0 157.8 175.2 157.8 172.0 158.6C168.8 159.4 163.7 160.9 159.6 161.7C155.5 162.5 151.3 163.2 147.2 163.4C143.1 163.6 138.9 163.6 134.8 163.0C130.7 162.4 126.5 161.2 122.4 159.9C118.3 158.7 113.0 156.6 110.0 155.5C107.0 154.4 106.3 154.3 104.7 153.4C103.1 152.5 102.5 151.0 100.6 150.3C98.7 149.6 98.0 149.6 93.4 149.3C88.8 149.0 79.7 148.8 72.8 148.3C65.9 147.8 56.6 146.9 52.3 146.4C48.0 145.9 48.3 145.8 47.0 145.6C45.7 145.4 44.8 145.5 44.4 145.5Z" fill="#f8b024" filter="url(#lba70)"/><path d="M48.5 140.5C48.8 140.2 49.1 139.1 50.0 138.6C50.9 138.1 52.3 137.8 54.0 137.6C55.7 137.4 52.3 137.3 60.0 137.2C67.7 137.1 83.3 137.0 100.0 137.0C116.7 137.0 146.0 136.9 160.0 137.0C174.0 137.1 179.3 137.1 184.0 137.3C188.7 137.5 186.8 138.0 188.0 138.4C189.2 138.8 191.3 139.3 191.0 139.6C190.7 139.9 187.1 140.0 186.0 140.3C184.9 140.6 185.5 140.7 184.4 141.2C183.3 141.7 181.2 142.3 179.5 143.1C177.8 143.9 175.3 145.2 174.5 146.2C173.7 147.2 175.3 148.1 174.5 149.3C173.7 150.5 172.5 152.2 169.6 153.6C166.7 154.9 161.2 156.7 157.1 157.4C152.9 158.1 148.8 158.2 144.7 158.0C140.6 157.8 136.0 157.2 132.3 156.1C128.6 155.0 124.9 152.8 122.4 151.2C119.9 149.6 119.5 147.8 117.4 146.8C115.3 145.8 112.9 145.8 110.0 145.4C107.1 145.0 105.0 144.8 100.0 144.6C95.0 144.4 86.7 144.4 80.0 144.3C73.3 144.2 64.5 144.2 60.0 144.1C55.5 144.0 54.8 143.9 53.0 143.6C51.2 143.3 49.7 142.7 49.0 142.5Z" fill="url(#bloba)" filter="url(#lba80)"/><path d="M53.0 140.7C53.4 140.5 54.0 139.7 55.5 139.3C57.0 139.0 54.6 138.8 62.0 138.6C69.4 138.4 83.7 138.4 100.0 138.4C116.3 138.4 147.0 138.4 160.0 138.5C173.0 138.6 174.0 138.6 178.0 138.9C182.0 139.2 183.0 139.8 184.0 140.2C185.0 140.6 185.0 141.2 184.0 141.6C183.0 142.0 182.0 142.3 178.0 142.5C174.0 142.7 173.0 142.9 160.0 143.0C147.0 143.1 116.3 143.1 100.0 143.1C83.7 143.1 69.4 143.0 62.0 142.8C54.6 142.6 56.6 142.2 55.5 142.1Z" fill="url(#ridgea)" filter="url(#lba90)"/>
<path d="M281.2 209 L281.2 347.8 L143 347.8Z" fill="#fff" filter="url(#fa1_5)"/>
<rect x="42.2" y="5.7" width="2.4" height="339.1" fill="url(#edgea)"/>
<ellipse cx="48" cy="208" rx="5" ry="11" fill="#f4f6fa" filter="url(#fa3)"/>
<path d="M61.3 11.0C61.3 12.2 61.2 16.1 61.6 18.5C62.0 20.9 62.4 23.8 63.6 25.7C64.8 27.6 66.6 28.5 69.0 30.2C71.4 31.9 75.0 33.4 78.0 35.6C81.0 37.9 84.0 41.2 87.0 43.7C90.0 46.2 92.4 48.6 96.0 50.9C99.6 53.1 104.1 55.4 108.6 57.2C113.1 59.0 118.5 60.4 123.0 61.7C127.5 63.1 132.3 63.8 135.6 65.3C138.9 66.8 139.8 69.5 142.8 70.7C145.8 71.9 150.6 71.8 153.5 72.5C156.4 73.2 157.1 74.1 160.0 75.0C162.9 75.9 167.2 76.5 170.8 77.7C174.4 78.9 178.0 80.7 181.6 82.2C185.2 83.7 189.7 84.9 192.4 86.7C195.1 88.5 195.7 90.9 197.8 93.0C199.9 95.1 202.3 96.9 205.0 99.2C207.7 101.5 211.0 104.6 214.0 106.7C217.0 108.8 220.6 110.3 223.0 112.1C225.4 113.9 226.3 116.0 228.4 117.5C230.5 119.0 232.9 120.0 235.6 121.1C238.3 122.2 242.3 123.3 244.6 123.9C246.9 124.5 248.0 124.3 249.5 124.6C251.0 124.9 252.3 124.6 253.5 125.5C254.7 126.4 255.4 129.1 256.6 130.0C257.8 130.9 259.6 130.6 260.7 131.2C261.8 131.8 262.6 133.0 263.5 133.8C264.4 134.6 265.0 136.2 265.8 136.0C266.6 135.8 267.6 133.4 268.5 132.5C269.4 131.6 270.4 130.8 271.5 130.3C272.6 129.8 273.8 129.6 275.0 129.3C276.2 129.0 278.3 128.7 279.0 128.6" fill="none" stroke="#4e4e4e" stroke-width="1.3" stroke-dasharray="6 3.4"/><path d="M279.0 179.8C278.2 179.8 276.0 179.3 274.4 179.8C272.8 180.3 271.0 182.6 269.4 182.9C267.8 183.2 265.9 181.6 264.5 181.6C263.1 181.6 262.1 181.3 260.8 182.9C259.6 184.5 257.2 188.1 257.0 191.0C256.8 193.9 259.1 198.2 259.5 200.3C259.9 202.4 260.7 203.4 259.5 203.4C258.3 203.4 255.2 201.3 252.1 200.3C249.0 199.3 245.2 197.0 240.9 197.2C236.6 197.4 230.6 199.9 226.0 201.5C221.4 203.1 216.9 205.1 213.6 206.5C210.3 207.9 208.7 210.1 206.2 210.2C203.7 210.3 201.2 207.9 198.7 207.1C196.2 206.3 193.9 204.9 191.0 205.2C188.1 205.5 185.8 208.5 181.0 209.0C176.2 209.5 167.6 208.7 162.4 208.3C157.2 207.9 155.4 206.4 150.0 206.5C144.6 206.6 136.3 208.7 130.0 209.0C123.7 209.3 117.5 208.2 112.3 208.4C107.1 208.6 103.5 209.9 99.1 210.3C94.7 210.7 90.4 211.0 86.0 211.0C81.6 211.0 76.6 210.9 72.9 210.3C69.2 209.8 66.1 208.7 63.7 207.7C61.3 206.7 60.2 205.8 58.4 204.4C56.6 203.0 54.7 200.8 53.1 199.2C51.5 197.6 50.4 196.0 49.0 195.0C47.6 194.0 45.9 193.3 45.0 193.0C44.1 192.7 43.8 193.0 43.5 193.0" fill="none" stroke="#4e4e4e" stroke-width="1.3" stroke-dasharray="6 3.4"/><path d="M44.4 5.0C44.4 9.2 44.4 23.8 44.4 30.0C44.4 36.2 44.2 40.8 44.6 42.5C45.0 44.2 46.1 41.0 47.0 40.5C47.9 40.0 49.0 39.0 50.1 39.2C51.2 39.4 52.8 40.2 53.7 41.9C54.6 43.5 54.5 47.3 55.5 49.1C56.5 50.9 58.5 51.1 60.0 52.7C61.5 54.4 63.3 58.2 64.5 59.0C65.7 59.8 65.7 56.6 67.2 57.2C68.7 57.8 71.4 61.1 73.5 62.6C75.6 64.1 77.2 65.0 79.8 66.2C82.3 67.4 86.1 68.5 88.8 69.8C91.5 71.1 93.9 73.0 96.0 74.3C98.1 75.6 98.4 76.8 101.4 77.7C104.4 78.6 109.5 78.8 114.0 79.5C118.5 80.2 124.5 81.1 128.4 82.2C132.3 83.3 133.8 85.2 137.4 86.2C141.0 87.2 146.2 87.7 150.0 88.5C153.8 89.3 156.5 90.3 160.0 91.2C163.5 92.1 167.2 92.9 170.8 93.9C174.4 95.0 178.0 96.3 181.6 97.5C185.2 98.7 189.4 99.4 192.4 101.1C195.4 102.8 196.6 105.2 199.6 107.4C202.6 109.7 207.1 112.5 210.4 114.6C213.7 116.7 216.4 118.3 219.4 120.0C222.4 121.7 225.6 123.0 228.4 124.5C231.2 126.0 233.7 127.7 236.0 128.7C238.3 129.7 241.3 129.7 242.2 130.3C243.0 130.9 240.4 131.6 241.1 132.3C241.8 133.0 243.7 133.7 246.3 134.4C248.9 135.1 253.9 136.2 256.6 136.4C259.3 136.6 261.0 135.5 262.7 135.4C264.4 135.3 266.3 135.5 266.8 135.9C267.3 136.3 266.5 137.3 265.8 138.0C265.1 138.7 264.1 139.4 262.7 140.0C261.3 140.6 258.1 141.1 257.6 141.6C257.1 142.1 258.6 142.6 259.6 143.1C260.6 143.6 262.1 144.3 263.8 144.7C265.5 145.1 267.5 145.4 270.0 145.7C272.5 145.9 277.5 145.7 279.0 146.2C280.5 146.7 281.0 148.3 279.0 148.8C277.0 149.3 270.2 149.0 266.8 149.3C263.4 149.6 259.6 150.0 258.6 150.8C257.6 151.6 259.5 153.1 260.7 153.9C261.9 154.7 264.9 154.8 265.8 155.5C266.7 156.2 266.5 157.2 265.8 158.0C265.1 158.8 263.6 159.5 261.7 160.0C259.8 160.5 256.2 160.2 254.6 161.0C253.0 161.8 252.3 163.7 252.1 164.7C251.9 165.7 253.7 165.8 253.3 167.0C252.9 168.2 251.5 169.5 249.6 171.7C247.7 173.9 244.6 177.7 242.1 180.4C239.6 183.1 237.4 186.6 234.7 187.9C232.0 189.2 228.3 188.1 226.0 188.5C223.7 188.9 222.4 189.3 221.0 190.3C219.6 191.3 220.9 193.5 217.3 194.7C213.7 195.8 205.7 196.5 199.6 197.2C193.5 197.9 187.2 198.9 181.0 199.0C174.8 199.1 167.6 198.1 162.4 197.8C157.2 197.5 155.4 196.8 150.0 197.2C144.6 197.6 136.3 199.7 130.0 200.5C123.7 201.3 116.3 201.4 112.3 201.8C108.2 202.2 109.0 202.7 105.7 203.1C102.4 203.5 97.0 204.2 92.6 204.4C88.2 204.6 83.4 204.6 79.4 204.4C75.5 204.2 72.0 204.2 68.9 203.1C65.8 202.0 63.2 199.4 61.0 197.9C58.8 196.4 57.4 194.8 55.8 193.9C54.2 193.0 52.3 192.1 51.2 192.6C50.1 193.1 49.9 196.8 49.2 197.2C48.5 197.6 47.8 196.4 47.2 195.2C46.7 194.0 46.4 191.5 45.9 190.0C45.4 188.5 44.6 186.7 44.4 186.0" fill="none" stroke="#4e4e4e" stroke-width="1.3"/><path d="M44.4 60.0C44.5 62.5 44.3 71.3 44.8 75.0C45.3 78.7 46.5 80.0 47.4 82.2C48.3 84.5 48.9 88.0 50.1 88.5C51.3 89.0 53.0 85.4 54.6 84.9C56.2 84.5 58.4 85.2 60.0 85.8C61.6 86.4 63.0 88.0 64.5 88.5C66.0 89.0 67.3 87.8 69.0 88.5C70.7 89.2 71.4 91.7 74.4 93.0C77.4 94.3 81.9 95.4 87.0 96.6C92.1 97.8 99.0 99.2 105.0 100.2C111.0 101.2 117.0 102.2 123.0 102.9C129.0 103.7 134.8 104.0 141.0 104.7C147.2 105.4 155.0 106.3 160.0 107.1C165.0 107.9 167.2 108.5 170.8 109.6C174.4 110.7 178.0 112.2 181.6 113.5C185.2 114.8 189.1 115.6 192.4 117.1C195.7 118.6 198.4 120.8 201.4 122.5C204.4 124.2 207.4 125.5 210.4 127.0C213.4 128.5 216.4 130.3 219.4 131.5C222.4 132.7 225.4 133.2 228.4 133.9C231.4 134.6 234.4 135.4 237.4 135.9C240.4 136.4 244.2 136.7 246.4 137.1C248.6 137.5 250.0 137.9 250.5 138.2C251.0 138.4 250.4 138.3 249.6 138.6C248.8 138.9 247.6 139.0 245.5 139.8C243.4 140.6 239.0 142.3 237.3 143.4C235.6 144.5 234.9 145.2 235.2 146.4C235.5 147.6 238.4 148.9 239.3 150.6C240.2 152.3 240.9 155.0 240.4 156.7C239.9 158.4 237.9 159.2 236.2 160.8C234.5 162.4 231.8 164.5 230.1 166.0C228.4 167.5 227.7 168.4 226.0 170.0C224.3 171.6 222.9 173.3 219.8 175.4C216.7 177.5 211.5 180.9 207.4 182.7C203.3 184.5 198.4 185.5 195.0 186.2C191.6 186.8 191.6 186.2 187.2 186.6C182.8 187.0 174.8 188.0 168.6 188.5C162.4 189.0 156.4 188.8 150.0 189.7C143.6 190.6 135.2 192.9 130.0 193.8C124.8 194.7 122.8 194.6 118.8 195.1C114.8 195.6 110.1 196.9 105.7 197.1C101.3 197.3 97.0 196.9 92.6 196.4C88.2 195.9 83.8 195.2 79.4 193.8C75.0 192.4 70.0 190.3 66.3 188.1C62.6 185.9 59.7 182.7 57.1 180.5C54.5 178.3 52.2 176.2 50.5 175.2C48.8 174.1 47.6 173.7 46.6 174.2C45.6 174.7 44.8 176.7 44.4 178.0C44.0 179.3 44.4 181.3 44.4 182.0" fill="none" stroke="#4e4e4e" stroke-width="1.3"/><path d="M44.4 92.0C44.6 93.4 45.0 98.8 45.6 100.2C46.2 101.6 47.7 99.3 48.3 100.2C48.9 101.1 48.8 104.1 49.2 105.6C49.7 107.1 50.1 108.9 51.0 109.2C51.9 109.5 53.1 107.4 54.6 107.4C56.1 107.4 56.1 108.5 60.0 109.2C63.9 110.0 72.0 111.2 78.0 111.9C84.0 112.7 90.0 113.4 96.0 113.7C102.0 114.0 108.0 113.9 114.0 113.9C120.0 113.9 126.0 113.8 132.0 113.9C138.0 114.0 145.3 114.2 150.0 114.6C154.7 115.0 156.5 115.6 160.0 116.2C163.5 116.8 167.2 117.3 170.8 118.2C174.4 119.1 178.0 120.6 181.6 121.8C185.2 123.0 188.8 124.1 192.4 125.4C196.0 126.8 199.6 128.4 203.2 129.9C206.8 131.4 210.4 133.2 214.0 134.4C217.6 135.6 221.5 136.7 224.8 137.2C228.1 137.7 232.1 137.3 233.8 137.6C235.5 137.9 234.7 138.4 234.8 138.8C234.9 139.2 234.8 139.9 234.2 140.3C233.6 140.7 232.6 140.6 231.1 141.3C229.6 142.0 225.8 142.9 224.9 144.4C224.1 145.9 225.7 148.7 226.0 150.6C226.3 152.5 227.3 154.2 227.0 155.7C226.7 157.2 225.8 158.3 223.9 159.8C222.0 161.3 218.4 163.1 215.7 164.9C213.0 166.7 210.9 168.9 207.5 170.8C204.1 172.7 200.9 174.2 195.0 176.1C189.1 178.0 180.0 180.9 172.0 182.3C164.0 183.7 155.5 183.8 147.2 184.4C138.9 185.0 128.6 185.6 122.4 186.0C116.2 186.4 113.9 186.3 110.0 186.6C106.1 186.9 103.1 187.7 99.1 187.6C95.1 187.5 90.4 187.0 86.0 186.0C81.6 185.0 76.6 182.9 72.9 181.4C69.2 179.9 67.0 178.9 63.7 176.8C60.4 174.7 55.5 170.5 53.1 168.7C50.7 166.9 50.3 166.4 49.2 166.0C48.1 165.6 47.3 166.0 46.5 166.5C45.7 167.0 45.0 168.2 44.6 168.8C44.2 169.4 44.4 169.8 44.4 170.0" fill="none" stroke="#4e4e4e" stroke-width="1.3"/><path d="M44.4 112.0C44.6 113.0 45.1 116.1 45.6 118.2C46.1 120.3 46.5 123.8 47.4 124.5C48.3 125.2 47.4 123.0 51.0 122.7C54.6 122.4 61.5 122.9 69.0 122.7C76.5 122.5 87.0 122.0 96.0 121.8C105.0 121.6 114.0 121.4 123.0 121.4C132.0 121.4 143.8 121.6 150.0 121.8C156.2 122.0 156.5 122.1 160.0 122.5C163.5 122.9 167.2 123.4 170.8 124.2C174.4 125.0 178.0 126.1 181.6 127.2C185.2 128.3 188.8 129.6 192.4 130.8C196.0 132.0 199.6 133.3 203.2 134.4C206.8 135.5 211.0 136.8 214.0 137.3C217.0 137.8 219.5 137.4 221.0 137.6C222.5 137.8 222.7 138.2 223.0 138.6C223.3 139.0 223.6 139.2 222.9 139.8C222.2 140.4 220.7 141.0 218.8 142.3C216.9 143.6 213.0 146.3 211.6 147.5C210.2 148.7 210.6 148.1 210.6 149.5C210.6 150.9 212.1 153.8 211.6 155.7C211.1 157.6 209.4 159.4 207.5 161.1C205.6 162.8 202.3 164.1 200.3 165.9C198.3 167.7 198.1 170.2 195.6 172.0C193.1 173.8 190.3 175.4 185.3 176.4C180.3 177.4 172.2 177.7 165.8 178.2C159.5 178.7 153.4 179.1 147.2 179.4C141.0 179.7 134.8 180.2 128.6 180.1C122.4 180.0 115.0 179.8 110.0 179.1C105.0 178.4 102.1 176.9 98.5 176.1C94.9 175.2 91.6 174.8 88.2 174.0C84.8 173.2 81.4 172.2 78.0 171.4C74.6 170.6 71.1 170.3 67.7 169.4C64.3 168.5 60.0 167.5 57.4 166.2C54.8 164.9 53.8 162.8 52.3 161.5C50.8 160.2 49.5 158.8 48.2 158.6C46.9 158.4 45.2 159.7 44.6 160.1C44.0 160.5 44.4 160.8 44.4 161.0" fill="none" stroke="#4e4e4e" stroke-width="1.3"/><path d="M44.4 124.0C44.5 124.7 44.1 126.9 44.9 128.0C45.7 129.1 46.7 130.5 49.2 130.8C51.7 131.1 55.2 130.2 60.0 129.9C64.8 129.6 70.5 129.3 78.0 129.0C85.5 128.7 96.0 128.2 105.0 127.9C114.0 127.6 122.8 127.4 132.0 127.4C141.2 127.4 153.5 127.5 160.0 127.9C166.5 128.3 167.2 128.8 170.8 129.6C174.4 130.4 178.0 131.6 181.6 132.6C185.2 133.6 188.8 134.4 192.4 135.3C196.0 136.2 200.4 137.6 203.2 138.0C206.0 138.4 207.8 137.8 209.0 137.9C210.2 138.0 210.2 138.4 210.5 138.7C210.8 139.0 211.4 139.2 210.5 139.8C209.6 140.4 206.5 141.0 205.0 142.0C203.5 143.0 202.1 144.2 201.5 145.6C200.9 147.0 201.8 149.0 201.7 150.7C201.6 152.4 201.4 154.1 200.7 156.0C200.0 157.9 199.3 160.4 197.6 162.4C195.9 164.4 193.3 166.6 190.4 168.2C187.5 169.8 185.2 170.9 180.1 171.8C175.0 172.7 166.1 173.3 159.6 173.8C153.1 174.3 147.2 174.7 141.0 174.8C134.8 174.9 127.6 174.6 122.4 174.2C117.2 173.8 114.0 173.1 110.0 172.2C106.0 171.2 102.1 169.5 98.5 168.5C94.9 167.5 91.6 167.2 88.2 166.4C84.8 165.6 81.4 164.8 78.0 163.8C74.6 162.8 71.1 161.1 67.7 160.2C64.3 159.3 60.3 159.1 57.4 158.2C54.5 157.3 52.3 155.4 50.2 154.8C48.1 154.2 45.6 154.5 44.6 154.4C43.6 154.3 44.4 154.1 44.4 154.0" fill="none" stroke="#4e4e4e" stroke-width="1.3"/><path d="M44.4 131.0C44.9 131.7 44.3 134.4 47.1 135.0C49.9 135.6 52.1 134.5 61.3 134.3C70.5 134.1 93.2 133.9 102.0 133.6C110.8 133.3 107.7 132.8 114.0 132.6C120.3 132.4 132.3 132.2 140.0 132.2C147.7 132.1 153.7 131.9 160.0 132.3C166.3 132.7 173.2 133.8 178.0 134.6C182.8 135.4 185.2 136.4 188.8 136.9C192.4 137.4 197.5 137.3 199.6 137.6C201.7 137.9 201.3 138.2 201.5 138.5C201.7 138.8 201.5 138.6 200.5 139.6C199.5 140.6 196.8 142.5 195.6 144.3C194.4 146.1 194.4 148.4 193.5 150.5C192.6 152.6 191.8 154.9 190.4 156.9C189.0 158.9 187.9 160.8 185.3 162.3C182.7 163.8 179.3 164.9 175.0 166.0C170.7 167.1 164.2 168.1 159.6 168.8C155.0 169.5 151.3 169.9 147.2 170.0C143.1 170.1 138.9 169.9 134.8 169.4C130.7 168.9 126.5 167.7 122.4 166.9C118.3 166.1 113.1 165.3 110.0 164.5C106.9 163.7 106.5 162.9 103.7 162.1C100.9 161.3 96.8 160.3 93.4 159.5C90.0 158.7 86.5 157.8 83.1 157.0C79.7 156.2 76.2 155.7 72.8 154.9C69.4 154.1 66.0 153.2 62.6 152.3C59.2 151.4 55.3 149.9 52.3 149.3C49.3 148.7 45.9 148.9 44.6 148.8C43.3 148.7 44.4 148.6 44.4 148.5" fill="none" stroke="#4e4e4e" stroke-width="1.3"/><path d="M44.4 136.0C44.8 136.1 46.1 136.4 47.0 136.6C47.9 136.8 47.5 137.5 49.7 137.4C51.9 137.3 52.3 136.5 60.0 136.2C67.7 135.9 84.3 135.6 96.0 135.4C107.7 135.2 119.3 135.3 130.0 135.3C140.7 135.3 151.1 135.1 160.0 135.5C168.9 135.9 178.1 137.2 183.4 137.6C188.7 138.0 190.3 137.9 192.0 138.1C193.7 138.3 193.4 138.4 193.5 138.7C193.6 139.0 193.1 139.2 192.5 139.8C191.9 140.4 190.7 141.6 190.0 142.5C189.3 143.4 189.3 143.8 188.4 145.3C187.5 146.8 185.9 149.6 184.3 151.5C182.8 153.4 181.2 155.4 179.1 156.6C177.0 157.8 175.2 157.8 172.0 158.6C168.8 159.4 163.7 160.9 159.6 161.7C155.5 162.5 151.3 163.2 147.2 163.4C143.1 163.6 138.9 163.6 134.8 163.0C130.7 162.4 126.5 161.2 122.4 159.9C118.3 158.7 113.0 156.6 110.0 155.5C107.0 154.4 106.3 154.3 104.7 153.4C103.1 152.5 102.5 151.0 100.6 150.3C98.7 149.6 98.0 149.6 93.4 149.3C88.8 149.0 79.7 148.8 72.8 148.3C65.9 147.8 56.6 146.9 52.3 146.4C48.0 145.9 48.3 145.8 47.0 145.6C45.7 145.4 44.8 145.5 44.4 145.5" fill="none" stroke="#4e4e4e" stroke-width="1.3"/><path d="M48.5 140.5C48.8 140.2 49.1 139.1 50.0 138.6C50.9 138.1 52.3 137.8 54.0 137.6C55.7 137.4 52.3 137.3 60.0 137.2C67.7 137.1 83.3 137.0 100.0 137.0C116.7 137.0 146.0 136.9 160.0 137.0C174.0 137.1 179.3 137.1 184.0 137.3C188.7 137.5 186.8 138.0 188.0 138.4C189.2 138.8 191.3 139.3 191.0 139.6C190.7 139.9 187.1 140.0 186.0 140.3C184.9 140.6 185.5 140.7 184.4 141.2C183.3 141.7 181.2 142.3 179.5 143.1C177.8 143.9 175.3 145.2 174.5 146.2C173.7 147.2 175.3 148.1 174.5 149.3C173.7 150.5 172.5 152.2 169.6 153.6C166.7 154.9 161.2 156.7 157.1 157.4C152.9 158.1 148.8 158.2 144.7 158.0C140.6 157.8 136.0 157.2 132.3 156.1C128.6 155.0 124.9 152.8 122.4 151.2C119.9 149.6 119.5 147.8 117.4 146.8C115.3 145.8 112.9 145.8 110.0 145.4C107.1 145.0 105.0 144.8 100.0 144.6C95.0 144.4 86.7 144.4 80.0 144.3C73.3 144.2 64.5 144.2 60.0 144.1C55.5 144.0 54.8 143.9 53.0 143.6C51.2 143.3 49.7 142.7 49.0 142.5Z" fill="none" stroke="#4e4e4e" stroke-width="1.3"/><path d="M53.0 140.7C53.4 140.5 54.0 139.7 55.5 139.3C57.0 139.0 54.6 138.8 62.0 138.6C69.4 138.4 83.7 138.4 100.0 138.4C116.3 138.4 147.0 138.4 160.0 138.5C173.0 138.6 174.0 138.6 178.0 138.9C182.0 139.2 183.0 139.8 184.0 140.2C185.0 140.6 185.0 141.2 184.0 141.6C183.0 142.0 182.0 142.3 178.0 142.5C174.0 142.7 173.0 142.9 160.0 143.0C147.0 143.1 116.3 143.1 100.0 143.1C83.7 143.1 69.4 143.0 62.0 142.8C54.6 142.6 56.6 142.2 55.5 142.1Z" fill="none" stroke="#4e4e4e" stroke-width="1.3"/><path d="M44.6 5.7 V344.8" stroke="#4e4e4e" stroke-width="1.3" fill="none"/><path d="M43.5 222.0C44.3 222.2 45.9 221.9 48.4 223.1C50.9 224.2 55.5 227.2 58.8 228.9C62.1 230.6 65.4 231.6 68.1 233.5C70.8 235.4 73.4 237.8 75.1 240.5C76.8 243.2 77.3 246.2 78.5 249.7C79.7 253.2 81.8 257.8 82.0 261.3C82.2 264.8 80.9 267.5 79.7 270.6C78.5 273.7 77.0 276.8 75.1 279.9C73.2 283.0 70.4 286.6 68.1 289.1C65.8 291.6 62.6 292.6 61.2 294.9C59.9 297.2 61.1 301.1 60.0 303.0C58.9 304.9 56.0 304.8 54.4 306.2C52.8 307.6 51.1 309.2 50.3 311.3C49.4 313.4 49.6 315.9 49.3 318.5C48.9 321.1 48.6 324.1 48.2 326.8C47.9 329.6 47.5 332.5 47.2 335.0C46.9 337.5 46.8 340.2 46.6 342.0C46.4 343.8 46.1 345.3 46.0 346.0" fill="none" stroke="#4e4e4e" stroke-width="1.3" stroke-dasharray="6 3.4"/><path d="M45.5 297.0C45.5 291.2 45.5 272.8 45.5 262.0C45.5 251.2 45.5 237.4 45.6 232.0C45.7 226.6 45.9 229.8 46.3 229.5C46.7 229.2 47.4 228.8 47.8 230.5C48.1 232.2 48.0 238.2 48.4 240.0C48.8 241.8 49.2 241.3 50.0 241.0C50.8 240.7 52.2 237.9 53.1 238.2C54.0 238.5 54.6 239.7 55.4 242.8C56.2 245.9 57.5 252.4 57.7 256.7C57.9 260.9 57.3 264.8 56.5 268.3C55.7 271.8 54.2 274.8 53.1 277.5C52.0 280.2 50.6 281.6 49.6 284.5C48.6 287.4 47.9 292.6 47.3 294.9C46.7 297.1 46.0 297.5 45.8 298.0Z" fill="none" stroke="#4e4e4e" stroke-width="1.3"/>
</g>
<clipPath id="clipb"><rect x="388.4" y="5.7" width="236.20" height="339.10"/></clipPath>
<linearGradient id="ridgeb" x1="424" y1="0" x2="512" y2="0" gradientUnits="userSpaceOnUse"><stop offset="0" stop-color="#d65478"/><stop offset="0.15" stop-color="#c4509a"/><stop offset="0.6" stop-color="#b84c9c"/><stop offset="1" stop-color="#c85090"/></linearGradient><linearGradient id="tintb" x1="400" y1="200" x2="620" y2="10" gradientUnits="userSpaceOnUse"><stop offset="0" stop-color="#eaf6e2"/><stop offset="1" stop-color="#fdfefc"/></linearGradient><filter id="fb1_5" filterUnits="userSpaceOnUse" x="348.4" y="-34.3" width="316.20000000000005" height="419.1"><feGaussianBlur stdDeviation="1.5"/></filter><filter id="fb3" filterUnits="userSpaceOnUse" x="348.4" y="-34.3" width="316.20000000000005" height="419.1"><feGaussianBlur stdDeviation="3"/></filter><filter id="fb6" filterUnits="userSpaceOnUse" x="348.4" y="-34.3" width="316.20000000000005" height="419.1"><feGaussianBlur stdDeviation="6"/></filter><filter id="fb10" filterUnits="userSpaceOnUse" x="348.4" y="-34.3" width="316.20000000000005" height="419.1"><feGaussianBlur stdDeviation="10"/></filter><filter id="fb14" filterUnits="userSpaceOnUse" x="348.4" y="-34.3" width="316.20000000000005" height="419.1"><feGaussianBlur stdDeviation="14"/></filter>
<filter id="bl1b" x="-5%" y="-5%" width="110%" height="110%"><feGaussianBlur stdDeviation="1.0"/></filter>
<filter id="bl2b" x="-20%" y="-20%" width="140%" height="140%"><feGaussianBlur stdDeviation="2"/></filter>
<filter id="bl4b" x="-20%" y="-20%" width="140%" height="140%"><feGaussianBlur stdDeviation="4"/></filter>
<filter id="bl8b" x="-20%" y="-20%" width="140%" height="140%"><feGaussianBlur stdDeviation="8"/></filter>
<g clip-path="url(#clipb)">
<rect x="388.4" y="5.7" width="236.20000000000005" height="339.1" fill="#fff"/>
<path d="M388.4 5.7 L624.6 5.7 L624.6 213.0 L560.0 232.0 L388.4 232.0Z" fill="url(#tintb)" filter="url(#fb6)"/>
<path d="M388.4 5.7C389.8 5.6 394.9 4.5 396.5 5.0C398.1 5.5 397.2 7.5 398.0 9.0C398.8 10.5 400.0 12.3 401.0 14.0C402.0 15.7 402.6 16.4 404.0 18.9C405.4 21.4 406.4 26.2 409.4 29.2C412.4 32.1 418.1 34.5 422.0 36.6C425.9 38.7 429.2 40.3 432.8 42.0C436.4 43.7 440.0 45.0 443.6 46.8C447.2 48.6 451.6 51.1 454.4 52.6C457.2 54.1 456.4 54.1 460.5 55.8C464.6 57.4 473.0 60.3 479.2 62.5C485.4 64.7 491.6 66.6 497.8 69.1C504.0 71.6 510.2 74.2 516.5 77.5C522.8 80.8 530.8 85.5 535.5 88.7C540.2 91.9 541.8 94.0 545.0 96.7C548.2 99.4 550.3 101.9 555.0 105.0C559.7 108.1 566.9 112.4 573.0 115.2C579.1 118.0 586.5 119.4 591.5 121.8C596.5 124.2 599.6 127.4 603.0 129.5C606.4 131.6 609.5 133.6 612.0 134.3C614.5 135.0 615.8 134.3 618.0 133.9C620.2 133.5 624.2 126.4 625.5 132.1C626.8 137.8 626.8 161.7 625.5 168.0C624.2 174.3 620.2 170.0 618.0 170.0C615.8 170.0 613.5 167.7 612.2 168.0C610.9 168.3 612.2 169.5 610.4 171.7C608.6 173.8 604.3 178.2 601.2 180.9C598.1 183.6 595.1 186.0 592.0 188.0C588.9 190.0 586.3 191.1 582.8 193.0C579.3 194.9 575.8 198.1 571.2 199.5C566.6 200.9 559.1 201.0 555.2 201.5C551.3 202.0 553.7 202.2 548.0 202.7C542.3 203.2 529.0 204.2 521.0 204.6C513.0 205.0 506.0 204.8 500.0 205.3C494.0 205.8 490.0 206.8 485.0 207.5C480.0 208.2 476.5 209.4 470.0 209.5C463.5 209.6 451.4 208.6 446.0 208.3C440.6 208.1 440.5 208.2 437.4 208.0C434.2 207.8 430.5 207.5 427.1 207.0C423.7 206.5 420.2 205.8 416.8 204.9C413.4 204.0 409.6 202.7 406.5 201.8C403.4 201.0 400.4 199.9 398.3 199.8C396.2 199.7 395.6 201.0 394.2 201.3C392.8 201.6 391.0 201.2 390.0 201.5C389.0 201.8 388.7 202.8 388.4 203.0Z" fill="#e2f2d7" stroke="#e2f2d7" stroke-width="40" stroke-linejoin="round" filter="url(#fb10)"/>
<path d="M388.4 5.7C389.8 5.6 394.9 4.5 396.5 5.0C398.1 5.5 397.2 7.5 398.0 9.0C398.8 10.5 400.0 12.3 401.0 14.0C402.0 15.7 402.6 16.4 404.0 18.9C405.4 21.4 406.4 26.2 409.4 29.2C412.4 32.1 418.1 34.5 422.0 36.6C425.9 38.7 429.2 40.3 432.8 42.0C436.4 43.7 440.0 45.0 443.6 46.8C447.2 48.6 451.6 51.1 454.4 52.6C457.2 54.1 456.4 54.1 460.5 55.8C464.6 57.4 473.0 60.3 479.2 62.5C485.4 64.7 491.6 66.6 497.8 69.1C504.0 71.6 510.2 74.2 516.5 77.5C522.8 80.8 530.8 85.5 535.5 88.7C540.2 91.9 541.8 94.0 545.0 96.7C548.2 99.4 550.3 101.9 555.0 105.0C559.7 108.1 566.9 112.4 573.0 115.2C579.1 118.0 586.5 119.4 591.5 121.8C596.5 124.2 599.6 127.4 603.0 129.5C606.4 131.6 609.5 133.6 612.0 134.3C614.5 135.0 615.8 134.3 618.0 133.9C620.2 133.5 624.2 126.4 625.5 132.1C626.8 137.8 626.8 161.7 625.5 168.0C624.2 174.3 620.2 170.0 618.0 170.0C615.8 170.0 613.5 167.7 612.2 168.0C610.9 168.3 612.2 169.5 610.4 171.7C608.6 173.8 604.3 178.2 601.2 180.9C598.1 183.6 595.1 186.0 592.0 188.0C588.9 190.0 586.3 191.1 582.8 193.0C579.3 194.9 575.8 198.1 571.2 199.5C566.6 200.9 559.1 201.0 555.2 201.5C551.3 202.0 553.7 202.2 548.0 202.7C542.3 203.2 529.0 204.2 521.0 204.6C513.0 205.0 506.0 204.8 500.0 205.3C494.0 205.8 490.0 206.8 485.0 207.5C480.0 208.2 476.5 209.4 470.0 209.5C463.5 209.6 451.4 208.6 446.0 208.3C440.6 208.1 440.5 208.2 437.4 208.0C434.2 207.8 430.5 207.5 427.1 207.0C423.7 206.5 420.2 205.8 416.8 204.9C413.4 204.0 409.6 202.7 406.5 201.8C403.4 201.0 400.4 199.9 398.3 199.8C396.2 199.7 395.6 201.0 394.2 201.3C392.8 201.6 391.0 201.2 390.0 201.5C389.0 201.8 388.7 202.8 388.4 203.0Z" fill="#dcf0cf" stroke="#dcf0cf" stroke-width="14" stroke-linejoin="round" filter="url(#fb6)"/>
<linearGradient id="gfb" x1="0" y1="205" x2="0" y2="290" gradientUnits="userSpaceOnUse"><stop offset="0" stop-color="#e2f2d8"/><stop offset="0.5" stop-color="#ecf7e6"/><stop offset="1" stop-color="#f8fcf6"/></linearGradient>
<path d="M388.4 203.0 L390.0 201.5 L394.2 201.3 L398.3 199.8 L406.5 201.8 L416.8 204.9 L427.1 207.0 L437.4 208.0 L446.0 208.3 L470.0 209.5 L485.0 207.5 L500.0 205.3 L521.0 204.6 L548.0 202.7 L555.2 201.5 L571.2 199.5 L582.8 193.0 L592.0 188.0 L601.2 180.9 L610.4 171.7 L612.2 168.0 L618.0 170.0 L625.5 168.0 L628.0 165.0 L628.0 225.0 L560.0 285.0 L515.0 280.0 L470.0 252.0 L420.0 232.0 L388.4 225.0Z" fill="url(#gfb)" filter="url(#fb6)"/>
<path d="M388.4 245 L450 255 L470 345 L388.4 345Z" fill="#f0f2f9" filter="url(#fb10)"/>
<ellipse cx="408" cy="262" rx="45" ry="70" fill="#e2e7f5" filter="url(#fb14)"/>
<path d="M390.0 221.0C390.5 221.3 391.9 222.9 393.1 222.7C394.3 222.5 394.7 219.9 397.3 219.9C399.9 219.9 404.4 220.8 408.6 222.7C412.9 224.6 419.2 228.1 422.8 231.2C426.4 234.3 428.7 237.1 429.9 241.1C431.1 245.1 430.6 250.0 429.9 255.2C429.2 260.4 427.7 267.0 425.6 272.2C423.5 277.4 419.9 282.1 417.1 286.4C414.3 290.6 411.2 294.4 408.6 297.7C406.0 301.0 403.5 303.8 401.6 306.2C399.7 308.6 398.3 309.8 397.3 311.8C396.3 313.8 396.1 315.8 395.5 318.0C394.9 320.2 394.4 323.0 394.0 325.0C393.6 327.0 394.4 326.5 393.0 330.0C391.6 333.5 386.7 364.0 385.4 346.0C384.1 328.0 385.4 242.7 385.4 222.0Z" fill="#b3c0e6" filter="url(#fb3)"/>
<path d="M391.2 282.0C391.2 277.5 391.2 263.2 391.2 255.0C391.2 246.8 391.1 236.7 391.4 233.0C391.7 229.3 392.1 232.9 393.1 232.6C394.1 232.3 395.7 231.2 397.3 231.2C398.9 231.2 401.4 231.4 403.0 232.6C404.6 233.8 405.8 235.9 407.2 238.3C408.6 240.7 411.0 243.0 411.5 246.8C412.0 250.6 411.1 257.1 410.1 260.9C409.2 264.7 407.5 267.0 405.8 269.4C404.1 271.8 401.4 272.6 400.2 275.0C399.0 277.4 399.4 282.1 398.7 283.5C398.0 284.9 396.8 283.8 395.9 283.5C395.0 283.2 393.6 281.8 393.1 281.5Z" fill="#5574bd" filter="url(#fb1_5)"/>
<rect x="388.4" y="228" width="2.4" height="60" fill="#d6e6d8"/>
<ellipse cx="397.5" cy="252" rx="5" ry="16" fill="#34519f" filter="url(#fb3)"/>
<linearGradient id="edgeb" x1="0" y1="5" x2="0" y2="345" gradientUnits="userSpaceOnUse"><stop offset="0.000" stop-color="#c8e8b0"/><stop offset="0.103" stop-color="#b0e090"/><stop offset="0.191" stop-color="#c0d868"/><stop offset="0.279" stop-color="#d8d048"/><stop offset="0.353" stop-color="#f0c030"/><stop offset="0.385" stop-color="#f8b028"/><stop offset="0.400" stop-color="#f8a830"/><stop offset="0.415" stop-color="#f8b828"/><stop offset="0.456" stop-color="#e0c840"/><stop offset="0.500" stop-color="#c8d460"/><stop offset="0.544" stop-color="#b0dc80"/><stop offset="0.571" stop-color="#d0ecc0"/><stop offset="0.603" stop-color="#f6f8f8"/><stop offset="0.662" stop-color="#dfe5f4"/><stop offset="0.868" stop-color="#e6eaf6"/><stop offset="1.000" stop-color="#f4f6fa"/></linearGradient>
<filter id="lbb10h" filterUnits="userSpaceOnUse" x="358.4" y="-24.3" width="296.20000000000005" height="399.1"><feGaussianBlur stdDeviation="5"/></filter><filter id="lbbD" filterUnits="userSpaceOnUse" x="368.4" y="-14.3" width="276.20000000000005" height="379.1"><feGaussianBlur stdDeviation="3"/></filter><filter id="lbb10" filterUnits="userSpaceOnUse" x="368.4" y="-14.3" width="276.20000000000005" height="379.1"><feGaussianBlur stdDeviation="2.5"/></filter><filter id="lbb20" filterUnits="userSpaceOnUse" x="368.4" y="-14.3" width="276.20000000000005" height="379.1"><feGaussianBlur stdDeviation="2"/></filter><filter id="lbb30" filterUnits="userSpaceOnUse" x="368.4" y="-14.3" width="276.20000000000005" height="379.1"><feGaussianBlur stdDeviation="1.6"/></filter><filter id="lbb40" filterUnits="userSpaceOnUse" x="368.4" y="-14.3" width="276.20000000000005" height="379.1"><feGaussianBlur stdDeviation="1.3"/></filter><filter id="lbb50" filterUnits="userSpaceOnUse" x="368.4" y="-14.3" width="276.20000000000005" height="379.1"><feGaussianBlur stdDeviation="1.1"/></filter><filter id="lbb60" filterUnits="userSpaceOnUse" x="368.4" y="-14.3" width="276.20000000000005" height="379.1"><feGaussianBlur stdDeviation="1"/></filter><filter id="lbb70" filterUnits="userSpaceOnUse" x="368.4" y="-14.3" width="276.20000000000005" height="379.1"><feGaussianBlur stdDeviation="1"/></filter><filter id="lbb80" filterUnits="userSpaceOnUse" x="368.4" y="-14.3" width="276.20000000000005" height="379.1"><feGaussianBlur stdDeviation="1"/></filter><filter id="lbb90" filterUnits="userSpaceOnUse" x="368.4" y="-14.3" width="276.20000000000005" height="379.1"><feGaussianBlur stdDeviation="0.8"/></filter><path d="M385.4 2.7C387.2 3.1 394.4 4.0 396.5 5.0C398.6 6.0 397.2 7.5 398.0 9.0C398.8 10.5 400.0 12.3 401.0 14.0C402.0 15.7 402.6 16.4 404.0 18.9C405.4 21.4 406.4 26.2 409.4 29.2C412.4 32.1 418.1 34.5 422.0 36.6C425.9 38.7 429.2 40.3 432.8 42.0C436.4 43.7 440.0 45.0 443.6 46.8C447.2 48.6 451.6 51.1 454.4 52.6C457.2 54.1 456.4 54.1 460.5 55.8C464.6 57.4 473.0 60.3 479.2 62.5C485.4 64.7 491.6 66.6 497.8 69.1C504.0 71.6 510.2 74.2 516.5 77.5C522.8 80.8 530.8 85.5 535.5 88.7C540.2 91.9 541.8 94.0 545.0 96.7C548.2 99.4 550.3 101.9 555.0 105.0C559.7 108.1 566.9 112.4 573.0 115.2C579.1 118.0 586.5 119.4 591.5 121.8C596.5 124.2 599.6 127.4 603.0 129.5C606.4 131.6 609.5 133.6 612.0 134.3C614.5 135.0 615.8 134.3 618.0 133.9C620.2 133.5 624.2 126.4 625.5 132.1C626.8 137.8 626.8 161.7 625.5 168.0C624.2 174.3 620.2 170.0 618.0 170.0C615.8 170.0 613.5 167.7 612.2 168.0C610.9 168.3 612.2 169.5 610.4 171.7C608.6 173.8 604.3 178.2 601.2 180.9C598.1 183.6 595.1 186.0 592.0 188.0C588.9 190.0 586.3 191.1 582.8 193.0C579.3 194.9 575.8 198.1 571.2 199.5C566.6 200.9 559.1 201.0 555.2 201.5C551.3 202.0 553.7 202.2 548.0 202.7C542.3 203.2 529.0 204.2 521.0 204.6C513.0 205.0 506.0 204.8 500.0 205.3C494.0 205.8 490.0 206.8 485.0 207.5C480.0 208.2 476.5 209.4 470.0 209.5C463.5 209.6 451.4 208.6 446.0 208.3C440.6 208.1 440.5 208.2 437.4 208.0C434.2 207.8 430.5 207.5 427.1 207.0C423.7 206.5 420.2 205.8 416.8 204.9C413.4 204.0 409.6 202.7 406.5 201.8C403.4 201.0 400.4 199.9 398.3 199.8C396.2 199.7 395.6 201.0 394.2 201.3C392.8 201.6 391.5 201.5 390.0 201.5C388.5 201.5 386.2 201.5 385.4 201.5Z" fill="#cdebb8" filter="url(#lbbD)"/><path d="M389.6 5.0C389.8 7.8 390.1 16.5 390.5 22.0C390.9 27.5 391.6 35.2 392.3 38.2C393.1 41.2 393.9 38.5 395.0 40.0C396.1 41.5 396.8 44.5 398.6 47.2C400.4 49.9 403.4 54.4 405.8 56.2C408.2 58.0 410.3 57.1 413.0 58.0C415.7 58.9 418.7 60.4 422.0 61.6C425.3 62.8 428.9 63.6 432.8 65.2C436.7 66.9 440.8 69.8 445.4 71.5C450.0 73.2 454.9 73.8 460.5 75.5C466.1 77.2 473.0 79.5 479.2 81.6C485.4 83.7 491.3 86.0 497.8 88.2C504.3 90.4 511.9 91.9 518.4 94.8C524.9 97.7 530.7 101.9 536.8 105.5C542.9 109.1 549.2 112.8 555.2 116.2C561.2 119.6 567.3 123.2 572.5 125.9C577.7 128.7 581.6 131.1 586.4 132.7C591.2 134.2 597.1 134.4 601.2 135.2C605.3 136.0 608.9 136.8 611.0 137.5C613.1 138.2 613.8 138.5 614.0 139.2C614.2 139.9 613.1 140.7 612.5 141.5C611.9 142.3 611.7 142.5 610.4 144.2C609.1 145.9 606.9 148.8 604.8 151.5C602.6 154.2 600.2 157.3 597.5 160.7C594.8 164.1 591.7 168.3 588.3 171.7C584.9 175.1 581.2 178.1 577.2 180.9C573.2 183.7 569.6 186.4 564.4 188.3C559.2 190.2 553.7 191.3 546.0 192.5C538.3 193.7 526.1 194.7 518.4 195.5C510.7 196.3 508.1 196.5 500.0 197.4C491.9 198.3 479.0 200.1 470.0 201.0C461.0 201.9 452.3 202.7 446.0 202.8C439.7 202.9 436.2 202.3 432.2 201.8C428.2 201.3 425.4 200.7 422.0 199.8C418.6 199.0 415.1 197.7 411.7 196.7C408.3 195.7 404.0 194.0 401.4 193.6C398.8 193.2 397.7 193.4 396.3 194.1C394.9 194.8 394.2 196.9 393.2 197.7C392.2 198.5 391.8 198.8 390.5 199.0C389.2 199.2 386.2 231.7 385.4 199.0C384.5 166.3 385.4 35.4 385.4 2.7Z" fill="#bde5a3" stroke="#bde5a3" stroke-width="14" stroke-linejoin="round" filter="url(#lbb10h)"/><path d="M389.6 5.0C389.8 7.8 390.1 16.5 390.5 22.0C390.9 27.5 391.6 35.2 392.3 38.2C393.1 41.2 393.9 38.5 395.0 40.0C396.1 41.5 396.8 44.5 398.6 47.2C400.4 49.9 403.4 54.4 405.8 56.2C408.2 58.0 410.3 57.1 413.0 58.0C415.7 58.9 418.7 60.4 422.0 61.6C425.3 62.8 428.9 63.6 432.8 65.2C436.7 66.9 440.8 69.8 445.4 71.5C450.0 73.2 454.9 73.8 460.5 75.5C466.1 77.2 473.0 79.5 479.2 81.6C485.4 83.7 491.3 86.0 497.8 88.2C504.3 90.4 511.9 91.9 518.4 94.8C524.9 97.7 530.7 101.9 536.8 105.5C542.9 109.1 549.2 112.8 555.2 116.2C561.2 119.6 567.3 123.2 572.5 125.9C577.7 128.7 581.6 131.1 586.4 132.7C591.2 134.2 597.1 134.4 601.2 135.2C605.3 136.0 608.9 136.8 611.0 137.5C613.1 138.2 613.8 138.5 614.0 139.2C614.2 139.9 613.1 140.7 612.5 141.5C611.9 142.3 611.7 142.5 610.4 144.2C609.1 145.9 606.9 148.8 604.8 151.5C602.6 154.2 600.2 157.3 597.5 160.7C594.8 164.1 591.7 168.3 588.3 171.7C584.9 175.1 581.2 178.1 577.2 180.9C573.2 183.7 569.6 186.4 564.4 188.3C559.2 190.2 553.7 191.3 546.0 192.5C538.3 193.7 526.1 194.7 518.4 195.5C510.7 196.3 508.1 196.5 500.0 197.4C491.9 198.3 479.0 200.1 470.0 201.0C461.0 201.9 452.3 202.7 446.0 202.8C439.7 202.9 436.2 202.3 432.2 201.8C428.2 201.3 425.4 200.7 422.0 199.8C418.6 199.0 415.1 197.7 411.7 196.7C408.3 195.7 404.0 194.0 401.4 193.6C398.8 193.2 397.7 193.4 396.3 194.1C394.9 194.8 394.2 196.9 393.2 197.7C392.2 198.5 391.8 198.8 390.5 199.0C389.2 199.2 386.2 231.7 385.4 199.0C384.5 166.3 385.4 35.4 385.4 2.7Z" fill="#aede8a" filter="url(#lbb10)"/><path d="M390.0 45.0C390.3 48.7 390.9 61.3 391.6 67.1C392.3 72.9 393.1 76.9 394.0 80.0C394.9 83.1 394.8 84.1 397.2 85.7C399.6 87.3 400.9 88.0 408.4 89.5C415.8 91.0 430.1 93.2 441.9 95.0C453.7 96.8 469.5 98.9 479.2 100.6C488.9 102.3 493.5 103.8 500.0 105.4C506.5 107.0 512.3 107.8 518.4 110.3C524.5 112.8 530.7 116.9 536.8 120.1C542.9 123.3 550.3 126.8 555.2 129.3C560.1 131.8 563.1 133.9 566.2 135.1C569.3 136.3 571.1 136.1 573.6 136.7C576.1 137.3 579.2 138.0 581.0 138.6C582.8 139.2 584.3 139.4 584.6 140.0C584.9 140.6 583.6 141.0 583.0 142.0C582.4 143.0 581.5 144.1 580.9 146.0C580.2 147.9 580.3 150.6 579.1 153.4C577.9 156.2 576.1 159.6 573.6 162.6C571.1 165.6 568.1 168.9 564.4 171.7C560.7 174.4 556.7 177.1 551.5 179.1C546.3 181.1 539.2 182.5 533.1 183.7C527.0 184.9 520.2 185.7 514.7 186.5C509.2 187.3 507.4 188.0 500.0 188.7C492.6 189.4 479.0 189.9 470.0 190.6C461.0 191.3 452.3 192.9 446.0 193.1C439.7 193.2 436.2 192.3 432.2 191.5C428.2 190.7 425.4 189.9 422.0 188.5C418.6 187.1 415.1 184.8 411.7 183.3C408.3 181.8 404.0 180.2 401.4 179.7C398.8 179.2 397.7 179.8 396.3 180.2C394.9 180.6 394.2 181.5 393.2 182.3C392.2 183.1 390.9 184.6 390.5 185.0Z" fill="#bcd86a" filter="url(#lbb20)"/><path d="M390.2 85.0C390.4 87.3 390.6 94.8 391.4 98.6C392.2 102.4 393.7 106.2 395.0 108.0C396.3 109.8 396.0 109.3 399.0 109.5C402.0 109.7 406.2 109.5 413.0 109.4C419.8 109.3 431.0 108.8 440.0 109.0C449.0 109.2 458.0 109.6 467.0 110.3C476.0 111.0 488.5 112.3 494.0 113.0C499.5 113.7 495.9 113.2 500.0 114.3C504.1 115.4 512.3 117.2 518.4 119.4C524.5 121.6 530.7 124.7 536.8 127.3C542.9 129.9 551.0 133.3 555.2 135.0C559.4 136.7 560.2 136.4 562.0 137.2C563.8 137.9 565.4 138.8 566.0 139.5C566.6 140.2 565.8 140.4 565.5 141.5C565.2 142.6 564.9 143.7 564.4 146.0C563.9 148.3 563.7 152.1 562.5 155.2C561.3 158.3 559.8 161.7 557.0 164.4C554.2 167.2 550.9 169.5 546.0 171.7C541.1 173.8 534.3 175.8 527.6 177.3C520.9 178.8 513.9 179.6 506.0 180.5C498.1 181.4 486.0 182.1 480.0 182.5C474.0 182.9 475.7 183.2 470.0 182.7C464.3 182.2 453.1 180.5 446.0 179.7C438.9 178.9 431.1 178.6 427.1 178.0C423.1 177.4 424.6 177.0 422.0 176.0C419.4 175.0 415.1 173.3 411.7 171.9C408.3 170.5 404.0 168.2 401.4 167.3C398.8 166.4 397.8 166.1 396.3 166.3C394.8 166.6 393.2 168.0 392.2 168.8C391.2 169.6 390.8 170.6 390.5 171.0Z" fill="#d0d052" filter="url(#lbb30)"/><path d="M390.3 108.0C390.3 108.8 390.0 110.4 390.5 113.0C391.0 115.6 390.9 122.5 393.2 123.8C395.4 125.1 399.2 122.1 404.0 121.1C408.8 120.0 416.0 118.2 422.0 117.5C428.0 116.8 432.5 117.0 440.0 117.0C447.5 117.0 458.0 117.0 467.0 117.5C476.0 118.0 485.4 119.0 494.0 120.2C502.6 121.4 511.3 122.6 518.4 124.4C525.5 126.2 531.3 128.7 536.8 130.8C542.3 133.0 548.4 135.8 551.5 137.3C554.6 138.8 555.0 139.1 555.5 139.8C556.0 140.5 554.9 140.2 554.5 141.5C554.1 142.8 553.8 145.3 553.3 147.9C552.8 150.5 552.7 154.2 551.5 157.0C550.3 159.8 549.1 162.0 546.0 164.4C542.9 166.8 538.3 169.9 533.1 171.7C527.9 173.5 519.2 174.6 514.7 175.4C510.2 176.2 511.8 176.2 506.0 176.6C500.2 177.0 486.0 177.8 480.0 178.0C474.0 178.2 475.7 178.6 470.0 177.9C464.3 177.2 452.3 175.5 446.0 174.0C439.7 172.5 436.2 170.4 432.2 168.8C428.2 167.2 425.4 166.2 422.0 164.7C418.6 163.2 415.1 161.2 411.7 159.6C408.3 158.0 404.0 156.0 401.4 155.0C398.8 154.0 397.8 153.3 396.3 153.4C394.8 153.5 393.2 154.7 392.2 155.5C391.2 156.3 390.8 157.6 390.5 158.0Z" fill="#e6c63a" filter="url(#lbb40)"/><path d="M390.5 122.0C390.6 123.0 390.3 126.8 391.4 128.3C392.4 129.8 393.2 131.3 396.8 131.0C400.4 130.7 405.8 127.7 413.0 126.5C420.2 125.3 431.0 124.2 440.0 123.8C449.0 123.3 458.0 123.5 467.0 123.8C476.0 124.1 487.5 125.0 494.0 125.6C500.5 126.2 501.7 126.6 506.0 127.4C510.3 128.2 515.2 129.3 520.0 130.5C524.8 131.7 530.8 133.3 535.0 134.5C539.2 135.7 542.7 137.0 545.0 137.8C547.3 138.7 548.5 139.0 549.0 139.6C549.5 140.2 548.4 140.1 548.0 141.5C547.6 142.9 547.5 145.6 546.9 147.9C546.2 150.2 545.8 152.8 544.1 155.2C542.4 157.6 540.2 160.4 536.8 162.6C533.4 164.8 529.0 166.4 523.9 168.1C518.8 169.8 513.9 172.1 506.0 173.0C498.1 173.9 482.8 173.5 476.8 173.5C470.8 173.5 473.4 173.3 470.0 173.1C466.6 172.9 460.3 173.2 456.3 172.4C452.3 171.6 450.0 170.1 446.0 168.5C442.0 166.9 436.2 164.5 432.2 162.7C428.2 160.9 425.4 159.2 422.0 157.5C418.6 155.8 415.1 154.0 411.7 152.4C408.3 150.8 404.0 148.8 401.4 147.8C398.8 146.8 397.7 146.3 396.3 146.2C394.9 146.1 394.0 146.7 393.2 147.3C392.4 147.9 391.9 148.9 391.5 150.0C391.1 151.1 390.7 153.3 390.5 154.0Z" fill="#f5bc26" filter="url(#lbb50)"/><path d="M390.5 131.0C390.9 131.4 391.6 132.8 393.0 133.5C394.4 134.2 395.3 135.6 398.6 135.2C401.9 134.8 406.1 132.1 413.0 131.0C419.9 129.9 431.0 129.2 440.0 128.8C449.0 128.4 458.0 128.1 467.0 128.3C476.0 128.5 487.5 129.7 494.0 130.1C500.5 130.5 501.7 130.4 506.0 131.0C510.3 131.6 515.8 132.6 520.0 133.5C524.2 134.4 528.1 135.4 531.0 136.5C533.9 137.6 536.2 139.0 537.1 140.0C538.0 141.0 536.8 141.1 536.5 142.5C536.2 143.9 536.2 146.2 535.1 148.6C534.0 151.0 531.9 154.5 530.0 156.9C528.1 159.3 527.0 161.3 523.8 163.0C520.6 164.7 515.0 165.9 511.0 166.8C507.0 167.7 505.7 168.2 500.0 168.6C494.3 169.0 481.8 169.3 476.8 169.4C471.8 169.5 473.4 169.4 470.0 169.1C466.6 168.8 460.3 168.7 456.3 167.8C452.3 166.9 450.0 165.4 446.0 163.5C442.0 161.6 436.2 158.3 432.2 156.5C428.2 154.7 425.4 153.9 422.0 152.4C418.6 150.9 415.1 149.0 411.7 147.3C408.3 145.6 403.8 143.2 401.4 142.1C399.0 141.0 398.5 140.9 397.3 141.0C396.1 141.1 395.0 141.7 394.0 142.5C393.0 143.3 392.1 144.8 391.5 146.0C390.9 147.2 390.7 149.3 390.5 150.0Z" fill="#f8aa2e" filter="url(#lbb60)"/><path d="M407.0 140.3C407.5 140.0 408.7 138.8 410.0 138.2C411.3 137.6 410.0 137.3 415.0 136.5C420.0 135.7 430.8 134.2 440.0 133.6C449.2 133.0 459.0 133.1 470.0 133.2C481.0 133.3 497.5 133.7 506.0 134.2C514.5 134.7 517.3 135.3 521.0 136.3C524.7 137.3 527.0 139.0 528.0 140.0C529.0 141.0 527.6 141.1 527.2 142.5C526.8 143.9 526.9 146.4 525.8 148.6C524.7 150.8 522.8 153.7 520.7 155.8C518.7 157.9 516.1 159.6 513.5 161.0C510.9 162.4 508.0 163.5 505.3 164.1C502.6 164.7 500.4 164.6 497.4 164.8C494.4 165.0 490.5 165.3 487.1 165.4C483.7 165.5 479.7 165.4 476.8 165.2C473.9 165.0 473.4 165.1 470.0 164.3C466.6 163.5 460.3 161.9 456.3 160.5C452.3 159.1 449.1 157.5 446.0 156.0C442.9 154.5 440.5 152.7 437.4 151.4C434.2 150.1 430.5 149.5 427.1 148.3C423.7 147.1 419.7 145.3 416.8 144.2C413.9 143.1 411.1 141.9 410.0 141.5Z" fill="#ee7444" filter="url(#lbb70)"/><path d="M415.3 140.3C415.8 140.0 416.9 139.1 418.0 138.6C419.1 138.1 418.3 137.9 422.0 137.6C425.7 137.2 432.0 136.8 440.0 136.5C448.0 136.2 459.0 136.0 470.0 136.0C481.0 136.0 498.3 136.1 506.0 136.4C513.7 136.7 513.6 137.0 516.0 137.6C518.4 138.2 519.6 139.2 520.2 140.0C520.8 140.8 519.9 141.1 519.5 142.5C519.1 143.9 518.8 146.5 517.6 148.6C516.4 150.7 514.5 153.1 512.5 154.8C510.4 156.5 508.2 158.0 505.3 158.9C502.4 159.8 498.0 160.2 495.0 160.5C492.0 160.8 490.1 160.8 487.1 160.6C484.1 160.4 479.7 159.9 476.8 159.6C473.9 159.3 473.4 159.8 470.0 158.8C466.6 157.8 460.3 155.1 456.3 153.4C452.3 151.7 449.1 149.8 446.0 148.5C442.9 147.2 440.5 146.5 437.4 145.5C434.2 144.5 430.0 143.3 427.1 142.6C424.2 141.9 421.2 141.4 420.0 141.2Z" fill="#e05a62" filter="url(#lbb80)"/><path d="M424.5 140.4C424.9 140.2 425.8 139.5 427.0 139.2C428.2 138.9 428.2 138.8 432.0 138.6C435.8 138.4 442.0 138.2 450.0 138.1C458.0 138.0 470.7 137.9 480.0 137.9C489.3 137.9 501.0 137.9 506.0 138.1C511.0 138.3 509.1 138.6 510.0 139.0C510.9 139.4 511.6 140.0 511.5 140.4C511.4 140.8 510.8 141.2 509.5 141.5C508.2 141.8 505.3 141.9 504.0 142.3C502.7 142.8 501.8 143.2 501.5 144.2C501.2 145.2 503.2 146.9 502.5 148.3C501.8 149.7 500.0 151.4 497.4 152.4C494.8 153.4 490.5 154.3 487.1 154.5C483.7 154.7 479.7 153.9 476.8 153.4C473.9 152.9 471.7 152.3 470.0 151.6C468.3 150.9 468.8 150.5 466.5 149.3C464.2 148.1 459.7 145.2 456.3 144.2C452.9 143.2 449.2 143.4 446.0 143.1C442.8 142.8 440.0 142.6 437.0 142.4C434.0 142.2 429.5 141.9 428.0 141.8Z" fill="url(#ridgeb)" filter="url(#lbb90)"/><path d="M427 140.6 C440 139.3 470 139.1 504 139.6 C507 140.3 506 141.4 501 141.9 C470 142.6 440 142.4 427 141.2Z" fill="#7a3490"/>
<path d="M627.6 209 L627.6 347.8 L492 347.8Z" fill="#fff" filter="url(#fb1_5)"/>
<rect x="388.4" y="5.7" width="2.2" height="339.1" fill="url(#edgeb)"/>
<path d="M404.0 18.9C404.9 20.6 406.4 26.2 409.4 29.2C412.4 32.1 418.1 34.5 422.0 36.6C425.9 38.7 429.2 40.3 432.8 42.0C436.4 43.7 440.0 45.0 443.6 46.8C447.2 48.6 451.6 51.1 454.4 52.6C457.2 54.1 456.4 54.1 460.5 55.8C464.6 57.4 473.0 60.3 479.2 62.5C485.4 64.7 491.6 66.6 497.8 69.1C504.0 71.6 510.2 74.2 516.5 77.5C522.8 80.8 530.8 85.5 535.5 88.7C540.2 91.9 541.8 94.0 545.0 96.7C548.2 99.4 550.3 101.9 555.0 105.0C559.7 108.1 566.9 112.4 573.0 115.2C579.1 118.0 586.5 119.4 591.5 121.8C596.5 124.2 599.6 127.4 603.0 129.5C606.4 131.6 609.5 133.6 612.0 134.3C614.5 135.0 615.8 134.3 618.0 133.9C620.2 133.5 624.2 132.4 625.5 132.1" fill="none" stroke="#4e4e4e" stroke-width="1.3" stroke-dasharray="6 3.4"/><path d="M625.5 168.0C624.2 168.3 620.2 170.0 618.0 170.0C615.8 170.0 613.5 167.7 612.2 168.0C610.9 168.3 612.2 169.5 610.4 171.7C608.6 173.8 604.3 178.2 601.2 180.9C598.1 183.6 595.1 186.0 592.0 188.0C588.9 190.0 586.3 191.1 582.8 193.0C579.3 194.9 575.8 198.1 571.2 199.5C566.6 200.9 559.1 201.0 555.2 201.5C551.3 202.0 553.7 202.2 548.0 202.7C542.3 203.2 529.0 204.2 521.0 204.6C513.0 205.0 506.0 204.8 500.0 205.3C494.0 205.8 490.0 206.8 485.0 207.5C480.0 208.2 476.5 209.4 470.0 209.5C463.5 209.6 451.4 208.6 446.0 208.3C440.6 208.1 440.5 208.2 437.4 208.0C434.2 207.8 430.5 207.5 427.1 207.0C423.7 206.5 420.2 205.8 416.8 204.9C413.4 204.0 409.6 202.7 406.5 201.8C403.4 201.0 400.4 199.9 398.3 199.8C396.2 199.7 395.6 201.0 394.2 201.3C392.8 201.6 390.7 201.5 390.0 201.5" fill="none" stroke="#4e4e4e" stroke-width="1.3" stroke-dasharray="6 3.4"/><path d="M389.6 5.0C389.8 7.8 390.1 16.5 390.5 22.0C390.9 27.5 391.6 35.2 392.3 38.2C393.1 41.2 393.9 38.5 395.0 40.0C396.1 41.5 396.8 44.5 398.6 47.2C400.4 49.9 403.4 54.4 405.8 56.2C408.2 58.0 410.3 57.1 413.0 58.0C415.7 58.9 418.7 60.4 422.0 61.6C425.3 62.8 428.9 63.6 432.8 65.2C436.7 66.9 440.8 69.8 445.4 71.5C450.0 73.2 454.9 73.8 460.5 75.5C466.1 77.2 473.0 79.5 479.2 81.6C485.4 83.7 491.3 86.0 497.8 88.2C504.3 90.4 511.9 91.9 518.4 94.8C524.9 97.7 530.7 101.9 536.8 105.5C542.9 109.1 549.2 112.8 555.2 116.2C561.2 119.6 567.3 123.2 572.5 125.9C577.7 128.7 581.6 131.1 586.4 132.7C591.2 134.2 597.1 134.4 601.2 135.2C605.3 136.0 608.9 136.8 611.0 137.5C613.1 138.2 613.8 138.5 614.0 139.2C614.2 139.9 613.1 140.7 612.5 141.5C611.9 142.3 611.7 142.5 610.4 144.2C609.1 145.9 606.9 148.8 604.8 151.5C602.6 154.2 600.2 157.3 597.5 160.7C594.8 164.1 591.7 168.3 588.3 171.7C584.9 175.1 581.2 178.1 577.2 180.9C573.2 183.7 569.6 186.4 564.4 188.3C559.2 190.2 553.7 191.3 546.0 192.5C538.3 193.7 526.1 194.7 518.4 195.5C510.7 196.3 508.1 196.5 500.0 197.4C491.9 198.3 479.0 200.1 470.0 201.0C461.0 201.9 452.3 202.7 446.0 202.8C439.7 202.9 436.2 202.3 432.2 201.8C428.2 201.3 425.4 200.7 422.0 199.8C418.6 199.0 415.1 197.7 411.7 196.7C408.3 195.7 404.0 194.0 401.4 193.6C398.8 193.2 397.7 193.4 396.3 194.1C394.9 194.8 394.2 196.9 393.2 197.7C392.2 198.5 390.9 198.8 390.5 199.0" fill="none" stroke="#4e4e4e" stroke-width="1.3"/><path d="M390.0 45.0C390.3 48.7 390.9 61.3 391.6 67.1C392.3 72.9 393.1 76.9 394.0 80.0C394.9 83.1 394.8 84.1 397.2 85.7C399.6 87.3 400.9 88.0 408.4 89.5C415.8 91.0 430.1 93.2 441.9 95.0C453.7 96.8 469.5 98.9 479.2 100.6C488.9 102.3 493.5 103.8 500.0 105.4C506.5 107.0 512.3 107.8 518.4 110.3C524.5 112.8 530.7 116.9 536.8 120.1C542.9 123.3 550.3 126.8 555.2 129.3C560.1 131.8 563.1 133.9 566.2 135.1C569.3 136.3 571.1 136.1 573.6 136.7C576.1 137.3 579.2 138.0 581.0 138.6C582.8 139.2 584.3 139.4 584.6 140.0C584.9 140.6 583.6 141.0 583.0 142.0C582.4 143.0 581.5 144.1 580.9 146.0C580.2 147.9 580.3 150.6 579.1 153.4C577.9 156.2 576.1 159.6 573.6 162.6C571.1 165.6 568.1 168.9 564.4 171.7C560.7 174.4 556.7 177.1 551.5 179.1C546.3 181.1 539.2 182.5 533.1 183.7C527.0 184.9 520.2 185.7 514.7 186.5C509.2 187.3 507.4 188.0 500.0 188.7C492.6 189.4 479.0 189.9 470.0 190.6C461.0 191.3 452.3 192.9 446.0 193.1C439.7 193.2 436.2 192.3 432.2 191.5C428.2 190.7 425.4 189.9 422.0 188.5C418.6 187.1 415.1 184.8 411.7 183.3C408.3 181.8 404.0 180.2 401.4 179.7C398.8 179.2 397.7 179.8 396.3 180.2C394.9 180.6 394.2 181.5 393.2 182.3C392.2 183.1 390.9 184.6 390.5 185.0" fill="none" stroke="#4e4e4e" stroke-width="1.3"/><path d="M390.2 85.0C390.4 87.3 390.6 94.8 391.4 98.6C392.2 102.4 393.7 106.2 395.0 108.0C396.3 109.8 396.0 109.3 399.0 109.5C402.0 109.7 406.2 109.5 413.0 109.4C419.8 109.3 431.0 108.8 440.0 109.0C449.0 109.2 458.0 109.6 467.0 110.3C476.0 111.0 488.5 112.3 494.0 113.0C499.5 113.7 495.9 113.2 500.0 114.3C504.1 115.4 512.3 117.2 518.4 119.4C524.5 121.6 530.7 124.7 536.8 127.3C542.9 129.9 551.0 133.3 555.2 135.0C559.4 136.7 560.2 136.4 562.0 137.2C563.8 137.9 565.4 138.8 566.0 139.5C566.6 140.2 565.8 140.4 565.5 141.5C565.2 142.6 564.9 143.7 564.4 146.0C563.9 148.3 563.7 152.1 562.5 155.2C561.3 158.3 559.8 161.7 557.0 164.4C554.2 167.2 550.9 169.5 546.0 171.7C541.1 173.8 534.3 175.8 527.6 177.3C520.9 178.8 513.9 179.6 506.0 180.5C498.1 181.4 486.0 182.1 480.0 182.5C474.0 182.9 475.7 183.2 470.0 182.7C464.3 182.2 453.1 180.5 446.0 179.7C438.9 178.9 431.1 178.6 427.1 178.0C423.1 177.4 424.6 177.0 422.0 176.0C419.4 175.0 415.1 173.3 411.7 171.9C408.3 170.5 404.0 168.2 401.4 167.3C398.8 166.4 397.8 166.1 396.3 166.3C394.8 166.6 393.2 168.0 392.2 168.8C391.2 169.6 390.8 170.6 390.5 171.0" fill="none" stroke="#4e4e4e" stroke-width="1.3"/><path d="M390.3 108.0C390.3 108.8 390.0 110.4 390.5 113.0C391.0 115.6 390.9 122.5 393.2 123.8C395.4 125.1 399.2 122.1 404.0 121.1C408.8 120.0 416.0 118.2 422.0 117.5C428.0 116.8 432.5 117.0 440.0 117.0C447.5 117.0 458.0 117.0 467.0 117.5C476.0 118.0 485.4 119.0 494.0 120.2C502.6 121.4 511.3 122.6 518.4 124.4C525.5 126.2 531.3 128.7 536.8 130.8C542.3 133.0 548.4 135.8 551.5 137.3C554.6 138.8 555.0 139.1 555.5 139.8C556.0 140.5 554.9 140.2 554.5 141.5C554.1 142.8 553.8 145.3 553.3 147.9C552.8 150.5 552.7 154.2 551.5 157.0C550.3 159.8 549.1 162.0 546.0 164.4C542.9 166.8 538.3 169.9 533.1 171.7C527.9 173.5 519.2 174.6 514.7 175.4C510.2 176.2 511.8 176.2 506.0 176.6C500.2 177.0 486.0 177.8 480.0 178.0C474.0 178.2 475.7 178.6 470.0 177.9C464.3 177.2 452.3 175.5 446.0 174.0C439.7 172.5 436.2 170.4 432.2 168.8C428.2 167.2 425.4 166.2 422.0 164.7C418.6 163.2 415.1 161.2 411.7 159.6C408.3 158.0 404.0 156.0 401.4 155.0C398.8 154.0 397.8 153.3 396.3 153.4C394.8 153.5 393.2 154.7 392.2 155.5C391.2 156.3 390.8 157.6 390.5 158.0" fill="none" stroke="#4e4e4e" stroke-width="1.3"/><path d="M390.5 122.0C390.6 123.0 390.3 126.8 391.4 128.3C392.4 129.8 393.2 131.3 396.8 131.0C400.4 130.7 405.8 127.7 413.0 126.5C420.2 125.3 431.0 124.2 440.0 123.8C449.0 123.3 458.0 123.5 467.0 123.8C476.0 124.1 487.5 125.0 494.0 125.6C500.5 126.2 501.7 126.6 506.0 127.4C510.3 128.2 515.2 129.3 520.0 130.5C524.8 131.7 530.8 133.3 535.0 134.5C539.2 135.7 542.7 137.0 545.0 137.8C547.3 138.7 548.5 139.0 549.0 139.6C549.5 140.2 548.4 140.1 548.0 141.5C547.6 142.9 547.5 145.6 546.9 147.9C546.2 150.2 545.8 152.8 544.1 155.2C542.4 157.6 540.2 160.4 536.8 162.6C533.4 164.8 529.0 166.4 523.9 168.1C518.8 169.8 513.9 172.1 506.0 173.0C498.1 173.9 482.8 173.5 476.8 173.5C470.8 173.5 473.4 173.3 470.0 173.1C466.6 172.9 460.3 173.2 456.3 172.4C452.3 171.6 450.0 170.1 446.0 168.5C442.0 166.9 436.2 164.5 432.2 162.7C428.2 160.9 425.4 159.2 422.0 157.5C418.6 155.8 415.1 154.0 411.7 152.4C408.3 150.8 404.0 148.8 401.4 147.8C398.8 146.8 397.7 146.3 396.3 146.2C394.9 146.1 394.0 146.7 393.2 147.3C392.4 147.9 391.9 148.9 391.5 150.0C391.1 151.1 390.7 153.3 390.5 154.0" fill="none" stroke="#4e4e4e" stroke-width="1.3"/><path d="M390.5 131.0C390.9 131.4 391.6 132.8 393.0 133.5C394.4 134.2 395.3 135.6 398.6 135.2C401.9 134.8 406.1 132.1 413.0 131.0C419.9 129.9 431.0 129.2 440.0 128.8C449.0 128.4 458.0 128.1 467.0 128.3C476.0 128.5 487.5 129.7 494.0 130.1C500.5 130.5 501.7 130.4 506.0 131.0C510.3 131.6 515.8 132.6 520.0 133.5C524.2 134.4 528.1 135.4 531.0 136.5C533.9 137.6 536.2 139.0 537.1 140.0C538.0 141.0 536.8 141.1 536.5 142.5C536.2 143.9 536.2 146.2 535.1 148.6C534.0 151.0 531.9 154.5 530.0 156.9C528.1 159.3 527.0 161.3 523.8 163.0C520.6 164.7 515.0 165.9 511.0 166.8C507.0 167.7 505.7 168.2 500.0 168.6C494.3 169.0 481.8 169.3 476.8 169.4C471.8 169.5 473.4 169.4 470.0 169.1C466.6 168.8 460.3 168.7 456.3 167.8C452.3 166.9 450.0 165.4 446.0 163.5C442.0 161.6 436.2 158.3 432.2 156.5C428.2 154.7 425.4 153.9 422.0 152.4C418.6 150.9 415.1 149.0 411.7 147.3C408.3 145.6 403.8 143.2 401.4 142.1C399.0 141.0 398.5 140.9 397.3 141.0C396.1 141.1 395.0 141.7 394.0 142.5C393.0 143.3 392.1 144.8 391.5 146.0C390.9 147.2 390.7 149.3 390.5 150.0" fill="none" stroke="#4e4e4e" stroke-width="1.3"/><path d="M407.0 140.3C407.5 140.0 408.7 138.8 410.0 138.2C411.3 137.6 410.0 137.3 415.0 136.5C420.0 135.7 430.8 134.2 440.0 133.6C449.2 133.0 459.0 133.1 470.0 133.2C481.0 133.3 497.5 133.7 506.0 134.2C514.5 134.7 517.3 135.3 521.0 136.3C524.7 137.3 527.0 139.0 528.0 140.0C529.0 141.0 527.6 141.1 527.2 142.5C526.8 143.9 526.9 146.4 525.8 148.6C524.7 150.8 522.8 153.7 520.7 155.8C518.7 157.9 516.1 159.6 513.5 161.0C510.9 162.4 508.0 163.5 505.3 164.1C502.6 164.7 500.4 164.6 497.4 164.8C494.4 165.0 490.5 165.3 487.1 165.4C483.7 165.5 479.7 165.4 476.8 165.2C473.9 165.0 473.4 165.1 470.0 164.3C466.6 163.5 460.3 161.9 456.3 160.5C452.3 159.1 449.1 157.5 446.0 156.0C442.9 154.5 440.5 152.7 437.4 151.4C434.2 150.1 430.5 149.5 427.1 148.3C423.7 147.1 419.7 145.3 416.8 144.2C413.9 143.1 411.1 141.9 410.0 141.5" fill="none" stroke="#4e4e4e" stroke-width="1.3"/><path d="M415.3 140.3C415.8 140.0 416.9 139.1 418.0 138.6C419.1 138.1 418.3 137.9 422.0 137.6C425.7 137.2 432.0 136.8 440.0 136.5C448.0 136.2 459.0 136.0 470.0 136.0C481.0 136.0 498.3 136.1 506.0 136.4C513.7 136.7 513.6 137.0 516.0 137.6C518.4 138.2 519.6 139.2 520.2 140.0C520.8 140.8 519.9 141.1 519.5 142.5C519.1 143.9 518.8 146.5 517.6 148.6C516.4 150.7 514.5 153.1 512.5 154.8C510.4 156.5 508.2 158.0 505.3 158.9C502.4 159.8 498.0 160.2 495.0 160.5C492.0 160.8 490.1 160.8 487.1 160.6C484.1 160.4 479.7 159.9 476.8 159.6C473.9 159.3 473.4 159.8 470.0 158.8C466.6 157.8 460.3 155.1 456.3 153.4C452.3 151.7 449.1 149.8 446.0 148.5C442.9 147.2 440.5 146.5 437.4 145.5C434.2 144.5 430.0 143.3 427.1 142.6C424.2 141.9 421.2 141.4 420.0 141.2Z" fill="none" stroke="#4e4e4e" stroke-width="1.3"/><path d="M424.5 140.4C424.9 140.2 425.8 139.5 427.0 139.2C428.2 138.9 428.2 138.8 432.0 138.6C435.8 138.4 442.0 138.2 450.0 138.1C458.0 138.0 470.7 137.9 480.0 137.9C489.3 137.9 501.0 137.9 506.0 138.1C511.0 138.3 509.1 138.6 510.0 139.0C510.9 139.4 511.6 140.0 511.5 140.4C511.4 140.8 510.8 141.2 509.5 141.5C508.2 141.8 505.3 141.9 504.0 142.3C502.7 142.8 501.8 143.2 501.5 144.2C501.2 145.2 503.2 146.9 502.5 148.3C501.8 149.7 500.0 151.4 497.4 152.4C494.8 153.4 490.5 154.3 487.1 154.5C483.7 154.7 479.7 153.9 476.8 153.4C473.9 152.9 471.7 152.3 470.0 151.6C468.3 150.9 468.8 150.5 466.5 149.3C464.2 148.1 459.7 145.2 456.3 144.2C452.9 143.2 449.2 143.4 446.0 143.1C442.8 142.8 440.0 142.6 437.0 142.4C434.0 142.2 429.5 141.9 428.0 141.8Z" fill="none" stroke="#4e4e4e" stroke-width="1.3"/><path d="M390.6 5.7 V344.8" stroke="#4e4e4e" stroke-width="1.3" fill="none"/><path d="M390.0 221.0C390.5 221.3 391.9 222.9 393.1 222.7C394.3 222.5 394.7 219.9 397.3 219.9C399.9 219.9 404.4 220.8 408.6 222.7C412.9 224.6 419.2 228.1 422.8 231.2C426.4 234.3 428.7 237.1 429.9 241.1C431.1 245.1 430.6 250.0 429.9 255.2C429.2 260.4 427.7 267.0 425.6 272.2C423.5 277.4 419.9 282.1 417.1 286.4C414.3 290.6 411.2 294.4 408.6 297.7C406.0 301.0 403.5 303.8 401.6 306.2C399.7 308.6 398.3 309.8 397.3 311.8C396.3 313.8 396.1 315.8 395.5 318.0C394.9 320.2 394.4 323.0 394.0 325.0C393.6 327.0 393.2 329.2 393.0 330.0" fill="none" stroke="#4e4e4e" stroke-width="1.3" stroke-dasharray="6 3.4"/><path d="M391.2 282.0C391.2 277.5 391.2 263.2 391.2 255.0C391.2 246.8 391.1 236.7 391.4 233.0C391.7 229.3 392.1 232.9 393.1 232.6C394.1 232.3 395.7 231.2 397.3 231.2C398.9 231.2 401.4 231.4 403.0 232.6C404.6 233.8 405.8 235.9 407.2 238.3C408.6 240.7 411.0 243.0 411.5 246.8C412.0 250.6 411.1 257.1 410.1 260.9C409.2 264.7 407.5 267.0 405.8 269.4C404.1 271.8 401.4 272.6 400.2 275.0C399.0 277.4 399.4 282.1 398.7 283.5C398.0 284.9 396.8 283.8 395.9 283.5C395.0 283.2 393.6 281.8 393.1 281.5Z" fill="none" stroke="#4e4e4e" stroke-width="1.3"/>
</g>
<path d="M42.20 344.80v5.6M42.20 5.70v-5.6M59.06 344.80v3.4M59.06 5.70v-3.4M75.91 344.80v3.4M75.91 5.70v-3.4M92.77 344.80v3.4M92.77 5.70v-3.4M109.63 344.80v3.4M109.63 5.70v-3.4M126.49 344.80v5.6M126.49 5.70v-5.6M143.34 344.80v3.4M143.34 5.70v-3.4M160.20 344.80v3.4M160.20 5.70v-3.4M177.06 344.80v3.4M177.06 5.70v-3.4M193.91 344.80v3.4M193.91 5.70v-3.4M210.77 344.80v5.6M210.77 5.70v-5.6M227.63 344.80v3.4M227.63 5.70v-3.4M244.49 344.80v3.4M244.49 5.70v-3.4M261.34 344.80v3.4M261.34 5.70v-3.4M278.20 344.80v3.4M278.20 5.70v-3.4M42.20 344.80h-3.4M278.20 344.80h3.4M42.20 327.85h-3.4M278.20 327.85h3.4M42.20 310.89h-5.6M278.20 310.89h5.6M42.20 293.94h-3.4M278.20 293.94h3.4M42.20 276.98h-3.4M278.20 276.98h3.4M42.20 260.02h-3.4M278.20 260.02h3.4M42.20 243.07h-3.4M278.20 243.07h3.4M42.20 226.11h-5.6M278.20 226.11h5.6M42.20 209.16h-3.4M278.20 209.16h3.4M42.20 192.20h-3.4M278.20 192.20h3.4M42.20 175.25h-3.4M278.20 175.25h3.4M42.20 158.30h-3.4M278.20 158.30h3.4M42.20 141.34h-5.6M278.20 141.34h5.6M42.20 124.39h-3.4M278.20 124.39h3.4M42.20 107.43h-3.4M278.20 107.43h3.4M42.20 90.48h-3.4M278.20 90.48h3.4M42.20 73.52h-3.4M278.20 73.52h3.4M42.20 56.57h-5.6M278.20 56.57h5.6M42.20 39.61h-3.4M278.20 39.61h3.4M42.20 22.65h-3.4M278.20 22.65h3.4M42.20 5.70h-3.4M278.20 5.70h3.4" stroke="#000" stroke-width="1.2" fill="none"/>
<rect x="42.2" y="5.7" width="236.00" height="339.10" fill="none" stroke="#000" stroke-width="1.4"/>
<text x="43.00" y="364.3" text-anchor="middle" class="tl">0</text>
<text x="127.29" y="364.3" text-anchor="middle" class="tl">50</text>
<text x="211.57" y="364.3" text-anchor="middle" class="tl">100</text>
<text x="30.60" y="62.37" text-anchor="end" class="tl">+50</text>
<text x="30.60" y="147.14" text-anchor="end" class="tl">0</text>
<text x="30.60" y="231.91" text-anchor="end" class="tl">−50</text>
<text x="30.60" y="316.69" text-anchor="end" class="tl">−100</text>
<text x="161.20" y="383.4" text-anchor="middle" class="al"><tspan font-style="italic">B</tspan><tspan dy="5">c</tspan><tspan dy="-5"> (mT)</tspan></text>
<text transform="translate(10.80,173.85) rotate(-90)" text-anchor="middle" class="al"><tspan font-style="italic">B</tspan><tspan dy="5">u</tspan><tspan dy="-5"> (mT)</tspan></text>
<text x="263.90" y="23.20" text-anchor="end" class="tt">373 cm</text>
<text x="43.00" y="20.70" class="gk" style="font-size:20px">α</text>
<linearGradient id="cbg297" x1="0" y1="72.8" x2="0" y2="321.3" gradientUnits="userSpaceOnUse"><stop offset="-0.0020" stop-color="#582a6c"/><stop offset="0.0893" stop-color="#74368a"/><stop offset="0.1899" stop-color="#a04898"/><stop offset="0.2905" stop-color="#c0508c"/><stop offset="0.3710" stop-color="#d85a70"/><stop offset="0.4314" stop-color="#e86450"/><stop offset="0.4777" stop-color="#ee7c40"/><stop offset="0.5239" stop-color="#f28c38"/><stop offset="0.5738" stop-color="#f5a42c"/><stop offset="0.6085" stop-color="#f8b422"/><stop offset="0.6463" stop-color="#f5bc24"/><stop offset="0.6728" stop-color="#f0c02c"/><stop offset="0.7062" stop-color="#e8c438"/><stop offset="0.7292" stop-color="#e0c844"/><stop offset="0.7549" stop-color="#d8cc4c"/><stop offset="0.7734" stop-color="#d2d054"/><stop offset="0.7968" stop-color="#cad45c"/><stop offset="0.8137" stop-color="#c2d866"/><stop offset="0.8322" stop-color="#bada70"/><stop offset="0.8499" stop-color="#b2dc78"/><stop offset="0.8692" stop-color="#aade80"/><stop offset="0.8861" stop-color="#aae088"/><stop offset="0.9022" stop-color="#b4e498"/><stop offset="0.9103" stop-color="#d4f0c4"/><stop offset="0.9179" stop-color="#eef8e8"/><stop offset="0.9344" stop-color="#ffffff"/><stop offset="0.9465" stop-color="#f0f2fa"/><stop offset="0.9573" stop-color="#d8def0"/><stop offset="0.9654" stop-color="#c4cce8"/><stop offset="0.9738" stop-color="#8898cc"/><stop offset="0.9867" stop-color="#5c74bc"/><stop offset="1.0000" stop-color="#4a62b0"/></linearGradient>
<rect x="297.6" y="72.8" width="11.8" height="248.50" fill="url(#cbg297)"/>
<text x="315.40" y="197.20" class="tl">90</text>
<text x="315.40" y="221.10" class="tl">80</text>
<text x="315.40" y="239.10" class="tl">70</text>
<text x="315.40" y="254.00" class="tl">60</text>
<text x="315.40" y="276.50" class="tl">40</text>
<text x="315.40" y="302.70" class="tl">10</text>
<path d="M297.60 300.90h11.8" stroke="#555" stroke-width="1.1" stroke-dasharray="3 2"/>
<path d="M297.60 310.70h11.8" stroke="#555" stroke-width="1.1" stroke-dasharray="3 2"/>
<text x="315.40" y="320.50" class="tl">−10</text>
<path d="M297.60 191.50h11.8M297.60 215.40h11.8M297.60 233.40h11.8M297.60 248.30h11.8M297.60 260.40h11.8M297.60 270.80h11.8M297.60 279.60h11.8M297.60 288.80h11.8M297.60 297.00h11.8M297.60 314.80h11.8" stroke="#555" stroke-width="1.1"/>
<path d="M309.40 191.50h4.4M309.40 215.40h4.4M309.40 233.40h4.4M309.40 248.30h4.4M309.40 260.40h3.0M309.40 270.80h4.4M309.40 279.60h3.0M309.40 288.80h3.0M309.40 297.00h4.4M309.40 300.90h3.0M309.40 310.70h3.0M309.40 314.80h4.4" stroke="#000" stroke-width="1.2"/>
<rect x="297.6" y="72.8" width="11.8" height="248.50" fill="none" stroke="#000" stroke-width="1.4"/>
<text x="305.50" y="67.5" text-anchor="middle" class="tl" font-size="14"><tspan font-style="italic">q</tspan> (%)</text>
<path d="M388.40 344.80v5.6M388.40 5.70v-5.6M405.27 344.80v3.4M405.27 5.70v-3.4M422.14 344.80v3.4M422.14 5.70v-3.4M439.01 344.80v3.4M439.01 5.70v-3.4M455.89 344.80v3.4M455.89 5.70v-3.4M472.76 344.80v5.6M472.76 5.70v-5.6M489.63 344.80v3.4M489.63 5.70v-3.4M506.50 344.80v3.4M506.50 5.70v-3.4M523.37 344.80v3.4M523.37 5.70v-3.4M540.24 344.80v3.4M540.24 5.70v-3.4M557.11 344.80v5.6M557.11 5.70v-5.6M573.99 344.80v3.4M573.99 5.70v-3.4M590.86 344.80v3.4M590.86 5.70v-3.4M607.73 344.80v3.4M607.73 5.70v-3.4M624.60 344.80v3.4M624.60 5.70v-3.4M388.40 344.80h-3.4M624.60 344.80h3.4M388.40 327.85h-3.4M624.60 327.85h3.4M388.40 310.89h-5.6M624.60 310.89h5.6M388.40 293.94h-3.4M624.60 293.94h3.4M388.40 276.98h-3.4M624.60 276.98h3.4M388.40 260.02h-3.4M624.60 260.02h3.4M388.40 243.07h-3.4M624.60 243.07h3.4M388.40 226.11h-5.6M624.60 226.11h5.6M388.40 209.16h-3.4M624.60 209.16h3.4M388.40 192.20h-3.4M624.60 192.20h3.4M388.40 175.25h-3.4M624.60 175.25h3.4M388.40 158.30h-3.4M624.60 158.30h3.4M388.40 141.34h-5.6M624.60 141.34h5.6M388.40 124.39h-3.4M624.60 124.39h3.4M388.40 107.43h-3.4M624.60 107.43h3.4M388.40 90.48h-3.4M624.60 90.48h3.4M388.40 73.52h-3.4M624.60 73.52h3.4M388.40 56.57h-5.6M624.60 56.57h5.6M388.40 39.61h-3.4M624.60 39.61h3.4M388.40 22.65h-3.4M624.60 22.65h3.4M388.40 5.70h-3.4M624.60 5.70h3.4" stroke="#000" stroke-width="1.2" fill="none"/>
<rect x="388.4" y="5.7" width="236.20" height="339.10" fill="none" stroke="#000" stroke-width="1.4"/>
<text x="389.20" y="364.3" text-anchor="middle" class="tl">0</text>
<text x="473.56" y="364.3" text-anchor="middle" class="tl">50</text>
<text x="557.91" y="364.3" text-anchor="middle" class="tl">100</text>
<text x="376.80" y="62.37" text-anchor="end" class="tl">+50</text>
<text x="376.80" y="147.14" text-anchor="end" class="tl">0</text>
<text x="376.80" y="231.91" text-anchor="end" class="tl">−50</text>
<text x="376.80" y="316.69" text-anchor="end" class="tl">−100</text>
<text x="507.50" y="383.4" text-anchor="middle" class="al"><tspan font-style="italic">B</tspan><tspan dy="5">c</tspan><tspan dy="-5"> (mT)</tspan></text>
<text transform="translate(357.00,173.85) rotate(-90)" text-anchor="middle" class="al"><tspan font-style="italic">B</tspan><tspan dy="5">u</tspan><tspan dy="-5"> (mT)</tspan></text>
<text x="615.80" y="24.20" text-anchor="end" class="tt">400 cm</text>
<text x="395.20" y="22.30" class="gk" style="font-size:21px">β</text>
<linearGradient id="cbg643" x1="0" y1="72.8" x2="0" y2="320.3" gradientUnits="userSpaceOnUse"><stop offset="-0.0020" stop-color="#582a6c"/><stop offset="0.0897" stop-color="#74368a"/><stop offset="0.1907" stop-color="#a04898"/><stop offset="0.2756" stop-color="#c0508c"/><stop offset="0.3321" stop-color="#d05a74"/><stop offset="0.3927" stop-color="#e06058"/><stop offset="0.4412" stop-color="#ea7444"/><stop offset="0.4897" stop-color="#f29838"/><stop offset="0.5301" stop-color="#f6a82c"/><stop offset="0.5737" stop-color="#f8b420"/><stop offset="0.6069" stop-color="#f8bc20"/><stop offset="0.6420" stop-color="#f2c228"/><stop offset="0.6756" stop-color="#e4c83c"/><stop offset="0.7042" stop-color="#d8cc4c"/><stop offset="0.7321" stop-color="#ccd058"/><stop offset="0.7624" stop-color="#c2d466"/><stop offset="0.7887" stop-color="#b8d872"/><stop offset="0.8206" stop-color="#aedc7c"/><stop offset="0.8453" stop-color="#aade84"/><stop offset="0.8727" stop-color="#acdf8a"/><stop offset="0.8836" stop-color="#c4eab0"/><stop offset="0.8954" stop-color="#e8f6e0"/><stop offset="0.9180" stop-color="#ffffff"/><stop offset="0.9382" stop-color="#f0f2fa"/><stop offset="0.9552" stop-color="#d0d8ee"/><stop offset="0.9665" stop-color="#b8c2e4"/><stop offset="0.9786" stop-color="#7a8cc8"/><stop offset="0.9887" stop-color="#5a72bc"/><stop offset="1.0000" stop-color="#4a62b0"/></linearGradient>
<rect x="643.8" y="72.8" width="11.8" height="247.50" fill="url(#cbg643)"/>
<text x="661.60" y="146.70" class="tl">90</text>
<text x="661.60" y="175.70" class="tl">80</text>
<text x="661.60" y="199.70" class="tl">70</text>
<text x="661.60" y="220.50" class="tl">60</text>
<text x="661.60" y="252.80" class="tl">40</text>
<text x="661.60" y="294.50" class="tl">10</text>
<path d="M643.80 294.40h11.8" stroke="#555" stroke-width="1.1" stroke-dasharray="3 2"/>
<path d="M643.80 309.20h11.8" stroke="#555" stroke-width="1.1" stroke-dasharray="3 2"/>
<text x="661.60" y="320.70" class="tl">−10</text>
<path d="M643.80 141.00h11.8M643.80 170.00h11.8M643.80 194.00h11.8M643.80 214.80h11.8M643.80 231.70h11.8M643.80 247.10h11.8M643.80 261.50h11.8M643.80 275.90h11.8M643.80 288.80h11.8M643.80 315.00h11.8" stroke="#555" stroke-width="1.1"/>
<path d="M655.60 141.00h4.4M655.60 170.00h4.4M655.60 194.00h4.4M655.60 214.80h4.4M655.60 231.70h3.0M655.60 247.10h4.4M655.60 261.50h3.0M655.60 275.90h3.0M655.60 288.80h4.4M655.60 294.40h3.0M655.60 309.20h3.0M655.60 315.00h4.4" stroke="#000" stroke-width="1.2"/>
<rect x="643.8" y="72.8" width="11.8" height="247.50" fill="none" stroke="#000" stroke-width="1.4"/>
<text x="651.70" y="67.5" text-anchor="middle" class="tl" font-size="14"><tspan font-style="italic">q</tspan> (%)</text>
</svg>
</body></html>
